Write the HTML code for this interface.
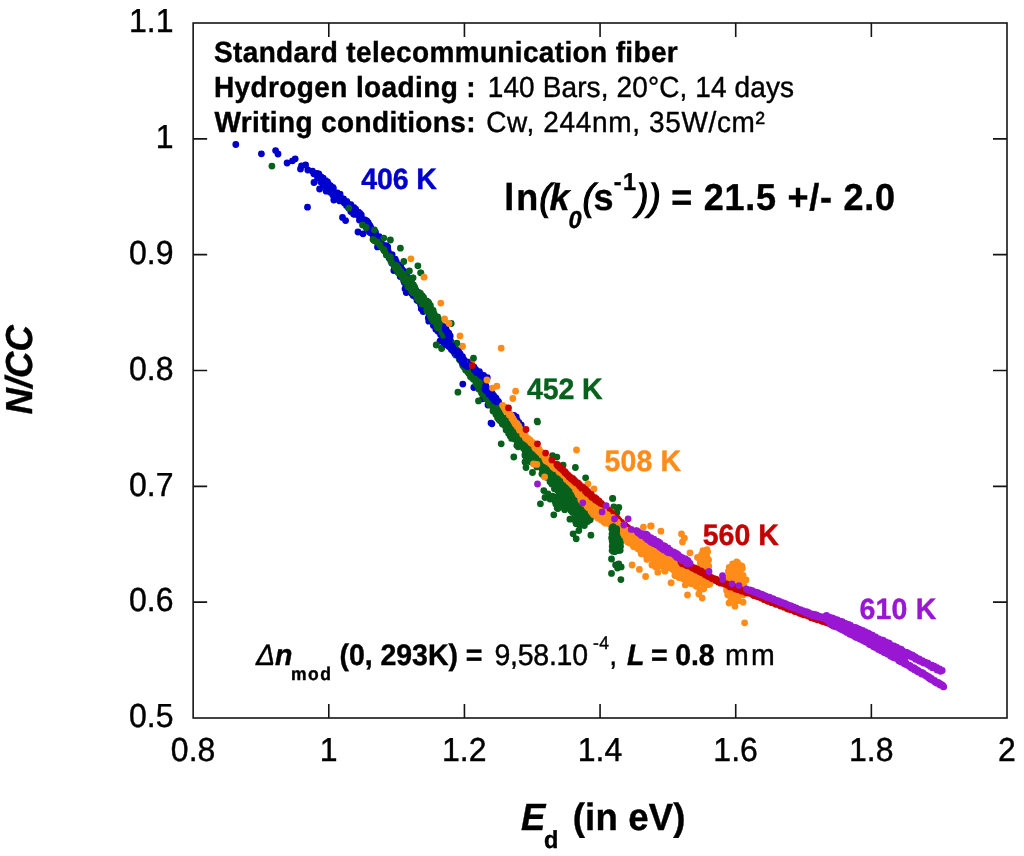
<!DOCTYPE html>
<html lang="en"><head><meta charset="utf-8"><title>NICC versus demarcation energy</title>
<style>
html,body{margin:0;padding:0;background:#fff;}
body{width:1024px;height:856px;overflow:hidden;}
svg{display:block;position:absolute;left:0;top:0;}
text{font-family:"Liberation Sans",sans-serif;fill:#000;stroke:#000;stroke-width:0.4px;white-space:pre;text-rendering:geometricPrecision;}
.b{font-weight:bold}.i{font-style:italic}.bi{font-weight:bold;font-style:italic}
.tk{font-size:32px}
.dots{fill:none;stroke-linecap:round;stroke-linejoin:round}
</style></head><body>
<svg width="1024" height="856" viewBox="0 0 1024 856">
<rect x="0" y="0" width="1024" height="856" fill="#fff"/>
<g id="data">
<path class="dots" stroke="#ff8c19" stroke-width="6.8" d="M462.5 346.2h0M471.9 361.2h0M480.0 373.5h0M462.5 346.5h0M480.6 373.8h0"/>
<path class="dots" stroke="#07601b" stroke-width="6.8" d="M338.8 199.8h0"/>
<path class="dots" stroke="#0000cd" stroke-width="6.8" d="M235.8 144.5h0M261.4 153.8h0M275.6 150.6h0M278.0 154.0h0M287.1 163.0h0M292.5 160.8h0M295.2 158.8h0M301.5 165.8h0M300.5 169.0h0M305.6 165.0h0M307.8 170.0h0M312.5 171.2h0M313.8 173.8h0M318.8 174.0h0M317.5 177.5h0M314.0 182.5h0M322.5 180.0h0M327.5 181.9h0M319.6 189.0h0M325.0 185.0h0M326.2 191.2h0M331.2 187.5h0M333.8 200.0h0M307.5 207.2h0M342.5 217.5h0M345.6 220.6h0M358.0 232.0h0M363.0 233.8h0M377.5 246.9h0M393.8 270.6h0M405.0 288.8h0M406.2 292.0h0M405.0 288.8h0M406.2 292.5h0M428.8 321.2h0M440.0 341.2h0M462.8 384.1h0M482.5 398.8h0M491.0 423.1h0M473.8 387.5h0M488.0 405.0h0M491.9 423.8h0"/>
<path class="dots" stroke="#0000cd" stroke-width="6.8" d="M316.9 173.5h0M317.3 174.6h0M317.7 174.6h0M318.5 175.1h0M318.2 175.9h0M319.5 176.0h0M319.6 176.9h0M321.1 176.8h0M320.7 178.2h0M321.8 177.7h0M322.3 178.4h0M323.2 178.1h0M320.6 181.7h0M322.1 181.8h0M321.5 182.5h0M322.9 182.9h0M325.6 180.6h0M323.2 184.2h0M324.4 184.2h0M325.5 183.7h0M325.0 185.7h0M328.0 183.8h0M328.7 184.3h0M327.6 186.1h0M327.6 186.5h0M326.7 188.6h0M330.4 185.6h0M328.4 189.4h0M331.1 187.0h0M332.0 187.4h0M332.9 187.3h0M333.4 188.1h0M330.3 192.2h0M331.4 192.0h0M332.0 191.9h0M333.6 191.8h0M333.1 192.5h0M333.7 193.1h0M332.8 195.1h0M334.0 194.8h0M335.6 194.6h0M337.4 193.0h0M338.1 194.2h0M338.0 194.5h0M337.7 196.2h0M340.1 194.1h0M340.1 195.7h0M338.2 198.9h0M339.6 197.8h0M339.1 199.7h0M341.4 198.8h0M339.7 200.9h0M342.3 198.9h0M343.6 198.9h0M342.9 201.0h0M343.6 200.8h0M344.7 201.1h0M344.4 201.9h0M344.3 203.1h0M346.8 201.4h0M346.8 203.1h0M346.2 204.2h0M346.4 205.4h0M348.6 204.2h0M348.5 204.9h0M348.2 206.3h0M350.9 204.7h0M348.6 207.8h0M348.8 208.3h0M351.0 207.6h0M352.0 207.4h0M351.8 209.0h0M353.8 207.4h0M350.8 211.6h0M352.7 211.0h0M355.7 209.2h0M355.4 210.2h0M355.8 210.5h0M353.5 213.9h0M354.4 214.4h0M356.7 212.4h0M358.6 212.2h0M358.6 212.5h0M358.8 213.9h0M360.0 213.4h0M358.4 215.7h0M359.9 215.8h0M361.3 214.9h0M361.3 215.7h0M360.3 217.9h0M359.4 220.0h0M360.3 220.0h0M361.9 219.2h0M362.1 220.3h0M363.0 220.3h0M365.1 219.9h0M363.7 221.7h0M365.9 221.1h0M366.8 221.0h0M363.9 224.3h0M364.4 224.5h0M368.2 222.7h0M368.4 223.3h0M365.8 226.1h0M367.1 225.8h0M369.3 224.9h0M370.1 225.9h0M366.9 228.6h0M370.2 227.0h0M369.5 228.3h0M371.0 228.0h0M369.4 230.2h0M370.5 230.3h0M369.4 232.1h0M370.4 232.8h0M372.2 232.2h0M372.3 233.0h0M372.1 233.4h0M375.5 232.2h0M372.8 234.7h0M374.3 234.9h0M375.6 234.2h0M373.4 237.0h0M376.1 235.6h0M375.7 237.4h0M376.1 237.8h0M375.6 239.4h0M379.2 236.6h0M376.5 240.5h0M378.8 239.1h0M379.3 239.8h0M380.2 239.5h0M379.4 241.2h0M379.1 242.2h0M381.3 242.0h0M380.6 243.2h0M381.1 243.9h0M381.1 244.6h0M380.4 245.6h0M382.2 245.8h0M382.7 245.7h0M384.0 245.4h0M383.8 246.6h0M386.4 245.7h0M386.3 247.1h0M387.7 246.8h0M384.4 249.9h0M387.1 249.2h0M385.9 250.3h0M387.9 249.9h0M387.8 250.8h0M388.3 251.7h0M387.0 253.4h0M388.3 253.6h0M389.1 254.0h0M388.5 254.9h0M388.8 255.9h0M392.1 254.6h0M389.3 256.8h0M389.1 258.0h0M392.2 256.5h0M392.2 257.5h0M392.5 257.9h0M391.1 260.1h0M392.0 260.0h0M395.2 259.1h0M395.3 259.3h0M391.7 263.1h0M395.4 261.2h0M395.8 262.0h0M396.4 261.9h0M395.8 263.6h0M396.4 263.8h0M394.6 265.7h0M395.5 266.1h0M394.7 267.6h0M399.7 265.4h0M400.6 265.3h0M399.9 266.9h0M400.4 267.6h0M399.0 268.9h0M398.9 270.1h0M400.9 269.6h0M401.8 269.2h0M399.1 271.8h0M399.4 272.9h0M403.6 271.1h0M400.5 273.4h0M402.8 272.6h0M401.5 274.8h0M400.2 276.6h0M404.5 274.8h0M406.4 273.9h0M404.2 276.0h0M406.0 276.1h0M403.5 278.2h0M405.2 278.4h0M407.2 277.5h0M403.7 280.7h0M409.2 278.5h0M404.4 282.5h0M408.8 280.4h0M405.9 283.3h0M410.5 280.4h0M407.8 283.3h0M405.8 285.1h0M409.0 284.4h0M411.8 283.3h0M408.5 286.5h0M408.3 286.9h0M408.0 288.1h0M412.6 286.0h0M412.3 286.9h0M413.6 286.8h0M411.9 289.1h0M414.7 288.2h0M414.8 288.5h0M415.6 289.6h0M413.5 291.6h0M411.7 293.6h0M413.3 293.1h0M415.7 292.6h0M417.0 292.5h0M413.1 295.6h0M418.0 293.8h0M418.4 294.5h0M416.4 296.5h0M417.8 296.5h0M416.5 298.3h0M420.1 296.5h0M420.3 297.0h0M417.0 300.2h0M418.4 300.3h0M420.7 299.4h0M419.0 301.6h0M419.9 301.7h0M420.2 302.5h0M421.6 302.0h0M422.4 302.4h0M420.7 304.8h0M422.4 304.3h0M424.6 303.6h0M422.3 305.9h0M423.1 306.1h0M421.5 308.5h0M421.3 308.7h0M422.7 309.2h0M426.4 307.7h0M424.1 309.4h0M427.7 308.6h0M423.2 311.6h0M427.6 310.3h0M427.8 311.0h0M429.7 310.6h0M428.8 311.8h0M430.2 311.6h0M430.3 312.5h0M430.7 312.9h0M430.6 313.7h0M429.4 315.4h0M429.1 316.8h0M428.3 318.0h0M432.3 316.0h0M431.7 317.5h0M432.1 318.4h0M432.3 318.3h0M432.4 319.9h0M433.3 320.0h0M435.1 319.4h0M435.2 319.9h0M434.6 321.3h0M433.4 323.1h0M435.6 322.2h0M436.6 322.2h0M433.4 325.6h0M436.1 324.4h0M435.5 325.5h0M437.3 325.5h0M438.0 325.8h0M438.8 326.1h0M435.8 329.3h0M439.0 328.2h0M437.1 329.6h0M438.8 329.7h0M438.0 331.2h0M440.1 330.5h0M442.1 329.5h0M442.0 330.5h0M441.0 332.9h0M442.1 332.1h0M440.5 334.6h0M442.1 334.2h0M443.5 333.9h0M441.8 335.9h0M442.7 336.6h0M445.9 335.0h0M445.2 336.2h0M445.8 337.2h0M444.4 339.3h0M445.8 338.8h0M447.1 338.8h0M445.1 340.7h0M445.2 341.8h0M447.4 341.3h0M447.2 342.0h0M449.0 341.4h0M447.5 343.5h0M451.2 342.1h0M450.2 343.0h0M450.5 344.2h0M448.9 346.5h0M450.5 346.0h0M451.0 346.0h0M453.2 345.5h0M451.5 347.3h0M452.5 348.3h0M451.7 349.1h0M454.2 348.0h0M453.1 350.3h0M453.2 351.1h0M455.8 349.1h0M456.5 350.0h0M455.1 352.3h0M454.7 353.4h0M455.0 354.0h0M458.6 351.8h0M455.9 354.9h0M458.8 353.6h0M459.7 353.3h0M458.0 355.6h0M459.5 355.4h0M460.6 356.0h0M460.8 356.4h0M460.9 357.0h0M462.5 356.7h0M461.4 358.6h0M460.0 360.1h0M463.4 359.1h0M461.7 360.8h0M463.0 360.8h0M462.9 362.0h0M464.1 361.5h0M463.3 363.5h0M464.1 363.8h0M467.2 362.0h0M465.1 364.4h0M467.7 363.0h0M465.8 365.7h0M466.6 366.4h0M469.2 364.7h0M466.8 367.7h0M468.3 367.3h0M469.4 366.9h0M468.3 369.1h0M468.6 369.5h0M470.1 369.5h0M469.9 370.2h0M471.2 369.9h0M470.5 372.1h0M473.3 370.9h0M472.8 372.1h0M471.5 373.5h0M472.1 374.6h0M474.7 372.8h0M473.8 375.0h0M474.2 375.6h0M474.7 376.2h0M474.5 377.1h0M474.8 377.4h0M475.1 378.1h0M476.6 377.8h0M477.8 377.3h0M479.4 377.1h0M479.1 378.4h0M479.4 378.8h0M480.4 379.6h0M478.3 382.1h0M479.4 381.5h0M481.5 380.8h0M479.8 383.3h0M483.0 382.1h0M483.4 382.6h0M480.9 385.2h0M484.3 383.8h0M483.7 384.9h0M482.9 386.6h0M483.1 387.3h0M485.9 386.1h0M485.9 386.3h0M485.1 388.3h0M485.6 389.1h0M486.4 389.2h0M487.4 389.3h0M486.6 390.9h0M487.5 391.3h0M489.7 390.2h0M488.9 391.4h0M490.1 391.4h0M488.8 393.4h0M488.9 394.1h0M490.6 393.4h0M490.4 395.0h0M492.3 393.8h0M491.5 395.4h0M492.4 395.6h0M493.7 395.7h0M493.3 396.9h0M494.0 397.4h0M494.3 397.7h0M495.8 397.9h0M496.1 398.4h0M496.2 399.5h0M496.7 399.7h0M495.4 401.6h0M496.0 402.3h0M498.3 401.4h0M498.6 402.0h0M496.8 404.3h0"/>
<path class="dots" stroke="#0000cd" stroke-width="6.8" d="M516.2 416.9h0M518.8 422.5h0M521.2 425.0h0M514.0 415.5h0M518.8 423.8h0M517.0 420.0h0"/>
<path class="dots" stroke="#07601b" stroke-width="6.8" d="M271.9 166.1h0M348.8 208.1h0M362.5 225.0h0M366.2 227.5h0M374.4 229.8h0M373.0 239.4h0M376.9 241.9h0M383.8 238.1h0M390.4 240.0h0M400.4 248.2h0M383.8 250.0h0M389.4 257.5h0M403.8 261.5h0M394.4 265.0h0M417.9 265.8h0M398.8 270.0h0M409.4 271.0h0M420.9 272.8h0M413.0 277.8h0M420.6 272.8h0M413.1 277.8h0M451.2 323.5h0M436.2 345.0h0M441.6 348.5h0M456.9 343.1h0M473.5 358.1h0M462.1 361.9h0M466.2 370.0h0M470.0 373.8h0M441.9 348.1h0M473.5 358.2h0M457.9 392.2h0M478.5 400.9h0M537.2 421.2h0M501.2 443.8h0M501.2 443.8h0M513.8 457.0h0M525.0 461.9h0M526.0 467.5h0M532.5 472.5h0M543.8 490.6h0M554.4 488.8h0M545.0 497.5h0M552.5 496.2h0M555.0 501.2h0M561.2 502.5h0M540.4 503.8h0M558.0 508.5h0M553.8 514.8h0M570.0 505.6h0M572.5 512.5h0M576.2 523.8h0M548.0 494.0h0M550.0 499.0h0M557.0 497.5h0M559.0 500.0h0M561.9 503.1h0M569.4 505.6h0M572.5 511.9h0M576.2 523.8h0M584.4 525.6h0M578.8 530.6h0M573.1 533.8h0M576.2 538.8h0M590.9 535.2h0M537.5 421.9h0M552.5 455.6h0M556.9 457.1h0M563.1 465.2h0M575.4 467.5h0M585.6 477.8h0M612.5 498.5h0M613.8 507.5h0M612.8 498.4h0M613.8 506.9h0M618.8 507.5h0M616.9 512.5h0M611.5 559.0h0M615.6 565.0h0M618.8 563.8h0M621.2 566.9h0M617.5 568.0h0M611.5 573.4h0M620.9 579.6h0"/>
<path class="dots" stroke="#07601b" stroke-width="6.8" d="M374.4 240.7h0M377.4 242.2h0M379.8 244.7h0M380.3 245.8h0M383.3 249.1h0M384.5 251.0h0M386.3 254.9h0M389.6 256.8h0M390.4 257.0h0M390.7 260.7h0M392.2 263.1h0"/>
<path class="dots" stroke="#07601b" stroke-width="6.8" d="M394.0 265.3h0M394.6 265.8h0M395.1 266.6h0M396.6 265.6h0M395.1 267.8h0M397.0 267.2h0M396.0 268.7h0M398.0 267.7h0M397.9 269.1h0M398.4 269.1h0M397.2 270.6h0M399.4 270.1h0M398.0 271.9h0M398.0 272.4h0M398.7 272.4h0M400.9 272.0h0M401.0 272.3h0M399.8 273.9h0M400.4 274.6h0M402.4 273.8h0M402.5 274.0h0M403.9 274.2h0M403.3 275.3h0M403.5 275.7h0M404.5 275.8h0M402.5 277.9h0M404.7 277.3h0M404.1 278.2h0M404.0 279.5h0M404.7 279.3h0M404.8 280.0h0M407.7 278.5h0M405.0 281.5h0M408.0 279.8h0M408.2 280.2h0M406.6 282.6h0M408.5 281.5h0M408.3 282.3h0M407.6 284.2h0M410.8 282.4h0M407.6 285.6h0M411.3 283.4h0M408.0 286.8h0M410.4 285.6h0M409.0 287.2h0M411.9 285.8h0M413.5 284.9h0M412.8 286.6h0M412.9 286.8h0M411.0 289.5h0M414.7 287.2h0M412.7 289.9h0M411.9 291.2h0M414.6 289.5h0M413.5 291.0h0M412.9 292.8h0M415.5 290.8h0M416.1 291.4h0M414.4 293.3h0M415.6 293.1h0M417.2 292.8h0M418.8 292.5h0M418.8 293.1h0M417.9 294.8h0M420.5 293.4h0M418.1 296.2h0M416.8 297.7h0M418.3 297.7h0M420.1 296.9h0M422.3 296.0h0M418.5 299.9h0M420.3 298.6h0M423.6 297.3h0M420.0 300.8h0M423.7 298.1h0M421.3 301.3h0M422.5 301.3h0M421.7 302.1h0M423.5 301.5h0M421.9 304.0h0M426.7 301.0h0M424.7 303.0h0M427.2 302.3h0M428.2 302.2h0M428.8 302.8h0M428.2 303.6h0M427.1 304.8h0M428.2 304.8h0M427.2 306.2h0M429.4 306.0h0M430.4 305.5h0M426.7 309.1h0M430.6 307.3h0M427.8 309.5h0M427.8 310.2h0M427.1 311.2h0M429.2 310.9h0M430.5 310.7h0M432.2 309.9h0M433.2 310.4h0M432.9 311.4h0M432.0 312.7h0M433.2 312.7h0M431.0 314.4h0M434.1 313.6h0M430.4 316.1h0M431.6 316.6h0M433.9 315.8h0M432.0 317.8h0M431.6 318.7h0M434.1 318.0h0M434.0 318.1h0M437.6 316.9h0M433.4 320.0h0M433.3 321.1h0M437.6 319.2h0M438.6 319.2h0M437.7 320.6h0M439.3 320.4h0M439.2 321.0h0M436.0 323.8h0M437.4 323.3h0M438.6 323.1h0M438.8 323.6h0M437.9 324.9h0M439.7 324.7h0M437.2 326.9h0M437.6 327.7h0M441.8 325.5h0M438.6 328.0h0M442.1 326.7h0M442.2 327.7h0M441.6 328.5h0M442.0 328.7h0M441.8 330.0h0M444.2 329.2h0M442.6 330.4h0M443.2 331.1h0M441.9 332.4h0M443.0 332.8h0M442.8 333.1h0M443.3 333.8h0M444.2 334.0h0M443.5 334.9h0M443.7 335.8h0M446.1 334.6h0M445.0 335.9h0M446.8 336.0h0M446.1 336.8h0M446.4 337.3h0M446.6 337.8h0"/>
<path class="dots" stroke="#07601b" stroke-width="6.8" d="M446.7 338.7h0M447.7 338.6h0M448.2 338.4h0M447.2 339.6h0M447.9 339.7h0M448.7 340.2h0M447.7 340.9h0M450.0 340.4h0M448.1 342.1h0M449.6 341.3h0M450.2 341.5h0M450.1 342.4h0M450.4 342.5h0M449.3 344.1h0M451.1 343.1h0M450.1 344.3h0M452.0 344.0h0M451.7 344.3h0M450.8 345.8h0M452.2 345.5h0M453.1 344.9h0M452.7 346.1h0M453.1 346.1h0M451.7 347.5h0M453.1 347.3h0M453.2 347.6h0M452.4 348.7h0M453.4 349.0h0M453.5 349.2h0M454.6 348.8h0M453.9 350.2h0M455.0 349.7h0M456.2 349.4h0M456.2 350.4h0M456.4 350.7h0M455.7 351.6h0M456.5 351.4h0M457.4 351.3h0M455.6 353.1h0M456.9 352.8h0M456.9 353.4h0M458.3 352.9h0M456.2 354.9h0M457.9 354.5h0M457.4 355.2h0M457.8 355.3h0M459.6 355.0h0M459.1 355.8h0M459.0 356.1h0M460.1 356.0h0M459.4 357.3h0M459.1 357.8h0M460.4 357.9h0M459.2 359.0h0M460.5 358.5h0M461.0 358.8h0M460.2 359.9h0M461.5 359.8h0M460.7 360.6h0M462.3 360.3h0M462.5 360.5h0M462.9 360.9h0M462.9 361.2h0M463.0 361.6h0M463.3 362.1h0M462.5 363.5h0M462.2 363.8h0M464.9 362.8h0M465.0 363.3h0M462.7 365.1h0M462.9 365.7h0M465.0 364.9h0M465.4 365.0h0M464.8 366.2h0M465.4 366.4h0M464.3 367.6h0M465.1 367.3h0M466.3 367.0h0M465.7 368.0h0M467.7 367.3h0M466.1 369.1h0M465.6 370.0h0M466.1 370.2h0M467.5 369.6h0M468.0 369.9h0M468.0 370.5h0M469.7 369.7h0M467.5 371.8h0M469.8 371.0h0M469.8 371.1h0M469.6 372.3h0M469.7 372.8h0M468.8 373.5h0M469.3 373.7h0M469.7 374.5h0M471.0 374.0h0M471.7 373.5h0M470.3 375.7h0M472.5 374.3h0M470.6 376.3h0M470.5 376.8h0M471.4 376.6h0M471.1 377.3h0M472.6 376.9h0M472.4 377.5h0M474.2 377.2h0M475.0 377.0h0M473.2 378.6h0M473.3 379.2h0M475.7 377.7h0M474.6 379.3h0M476.4 378.5h0M475.7 379.5h0M475.3 380.3h0M475.6 380.6h0M477.9 379.6h0M475.9 381.5h0M478.0 380.9h0M478.6 380.9h0M475.9 383.5h0M477.5 382.7h0M478.8 382.7h0M479.8 382.4h0M477.0 384.7h0M479.5 383.8h0M479.4 384.1h0M479.7 384.4h0M479.0 385.8h0M479.3 386.1h0M479.6 386.4h0M480.0 386.4h0M481.5 385.9h0M478.7 388.5h0M478.9 389.3h0M482.1 387.2h0M482.3 387.6h0M480.1 390.0h0M481.9 389.2h0M481.1 390.2h0M481.6 390.6h0M482.3 390.6h0M482.6 391.0h0M481.8 391.9h0M481.9 392.3h0M481.5 393.1h0M485.5 391.0h0M485.3 391.6h0M486.2 391.2h0M482.7 394.5h0M484.8 393.4h0M486.9 392.6h0M486.6 393.5h0M484.1 395.5h0M488.4 393.3h0M487.3 394.6h0M487.6 395.0h0M489.2 394.5h0M486.5 397.0h0M485.7 397.7h0M488.6 396.5h0M487.1 397.8h0M486.2 399.0h0M486.6 399.2h0M490.2 397.7h0M488.2 399.2h0M489.1 399.2h0M489.9 399.3h0M490.7 399.2h0M488.4 401.6h0M489.0 401.3h0M489.9 401.7h0M490.3 402.1h0M491.4 401.6h0M490.3 402.9h0M493.4 401.6h0M489.4 404.4h0M493.0 402.8h0M494.5 402.2h0M494.8 402.4h0M494.7 403.4h0M493.8 404.3h0M495.6 403.8h0M495.1 404.3h0M494.5 405.5h0M495.0 405.5h0M492.8 407.6h0M497.2 405.5h0M496.9 406.2h0M495.3 407.6h0M497.3 406.6h0M494.4 409.5h0M493.0 411.0h0M497.1 408.8h0M495.2 410.5h0M494.8 411.1h0M496.2 411.1h0M498.2 410.2h0M498.2 410.7h0M497.0 411.9h0M497.9 411.9h0M496.5 413.6h0M495.9 414.4h0M499.1 412.7h0M499.9 412.9h0M496.7 415.2h0M500.3 413.6h0M498.5 415.5h0M499.5 415.1h0M499.8 415.7h0M500.5 415.4h0M497.6 418.0h0M501.3 416.1h0M499.4 418.1h0M500.0 417.9h0M501.1 418.1h0M499.0 419.8h0M502.0 418.2h0M501.9 418.9h0M500.1 420.7h0M502.9 419.2h0M505.5 418.1h0M502.4 421.0h0M503.3 420.7h0M506.6 419.0h0M507.0 419.2h0M502.0 423.1h0M506.0 421.3h0M502.3 424.0h0M506.6 421.5h0M505.0 423.7h0M503.8 424.8h0M505.5 424.4h0M509.1 422.5h0M505.2 425.6h0M506.9 425.0h0M508.3 424.3h0M506.8 426.2h0M507.5 426.4h0M505.8 427.8h0M510.5 424.9h0M508.5 427.3h0M510.5 425.8h0M506.1 430.0h0M512.4 425.8h0M510.7 427.7h0M508.2 430.2h0M511.4 428.1h0M508.5 431.3h0M509.1 431.4h0M509.3 431.9h0M512.7 429.6h0M508.6 433.5h0M510.3 432.6h0M512.2 431.4h0M510.8 433.4h0M514.5 430.9h0M513.2 432.9h0M510.7 434.9h0M510.2 436.0h0M511.8 435.2h0M512.6 435.5h0M514.2 434.4h0M516.1 433.7h0M514.0 435.8h0M511.6 438.4h0M516.2 435.2h0M518.5 434.2h0M519.0 434.1h0M514.3 438.9h0M518.2 435.9h0M520.3 435.1h0M519.4 436.0h0M519.5 437.0h0M520.4 436.8h0M516.7 440.2h0M520.9 437.5h0M520.5 438.3h0M520.1 439.0h0M521.7 438.6h0M517.3 442.7h0M517.5 442.9h0M519.2 442.5h0M520.8 441.8h0M516.8 445.6h0M521.3 442.3h0M519.8 444.4h0M522.3 442.6h0M518.1 446.8h0M522.4 443.8h0M526.0 441.3h0M521.0 446.3h0M521.4 446.4h0M523.9 445.1h0M525.6 444.1h0M522.6 447.1h0M526.6 444.4h0M528.0 443.6h0M524.1 447.6h0M523.6 448.6h0M525.5 447.6h0M525.2 448.3h0M528.1 446.6h0M525.0 449.8h0M528.7 447.4h0M525.1 451.0h0M530.1 447.3h0M528.7 449.3h0M527.7 450.6h0M529.4 449.7h0M526.5 452.6h0M524.9 454.8h0M525.9 454.5h0M525.0 455.8h0M530.9 451.2h0M530.4 452.6h0M526.7 456.1h0M533.8 450.6h0M529.4 454.8h0M533.1 452.8h0M531.7 454.3h0M528.9 457.7h0M531.2 456.3h0M528.9 459.0h0M533.9 454.6h0M531.4 457.7h0M531.0 458.6h0M536.7 453.6h0M530.7 460.5h0M530.3 461.7h0M530.4 461.6h0M531.6 461.6h0M533.4 459.9h0M532.0 462.1h0M539.0 455.7h0M534.4 461.2h0M536.9 459.2h0M534.6 461.9h0M536.0 461.1h0M537.4 460.4h0M539.5 459.2h0M539.8 459.7h0M539.1 461.1h0M538.9 461.8h0M542.0 459.1h0M542.8 459.2h0M540.1 462.4h0M541.7 461.4h0M536.9 466.9h0M542.0 462.6h0M539.6 465.5h0M540.0 465.8h0M544.1 462.0h0M543.7 463.5h0M545.7 462.0h0M544.0 464.3h0M546.5 462.2h0M542.7 466.7h0M547.2 463.1h0M544.9 465.9h0M542.2 469.3h0M546.2 465.7h0M543.2 469.7h0M544.4 468.8h0M548.0 465.9h0M545.2 469.4h0M542.6 472.8h0M541.9 473.9h0M545.0 471.3h0M547.1 470.1h0M544.8 472.8h0M551.5 467.3h0M549.2 470.0h0M543.7 475.4h0M550.6 470.0h0M550.0 471.2h0M548.5 473.0h0M546.5 475.1h0M547.0 475.6h0M552.6 471.3h0M546.5 477.3h0M548.2 476.5h0M552.3 473.1h0M555.1 471.6h0M552.0 474.6h0M555.9 472.2h0M550.3 477.3h0M553.6 474.9h0M552.6 476.7h0M555.0 475.3h0M556.1 474.9h0M550.4 480.3h0M555.3 476.3h0M550.0 481.7h0M554.7 478.1h0M558.3 476.1h0M558.8 476.2h0M555.3 479.5h0M557.2 478.6h0M551.9 483.7h0M551.8 484.1h0M559.0 478.4h0M555.8 481.9h0M556.8 481.7h0M558.7 480.5h0M560.7 479.3h0M556.9 483.5h0M562.4 479.3h0M562.0 480.3h0M559.3 483.3h0M562.7 481.0h0M563.3 480.6h0M558.2 486.1h0M562.7 482.3h0M561.3 484.5h0M560.3 485.6h0M557.2 489.1h0M557.9 488.9h0M565.4 483.3h0M559.1 489.4h0M558.0 491.0h0M560.4 489.3h0M562.8 487.8h0M561.9 488.9h0M564.3 487.6h0M559.3 492.9h0M564.6 488.6h0M561.3 492.1h0M560.6 493.2h0M562.3 492.5h0M568.9 487.2h0M561.2 494.7h0M561.8 494.8h0M565.8 491.5h0M561.3 496.4h0M568.9 489.9h0M568.8 490.7h0M567.6 492.6h0M565.3 495.4h0M563.1 497.8h0M572.5 490.1h0M566.3 496.0h0M564.0 498.8h0M568.4 495.2h0M572.1 492.9h0M569.7 495.2h0M574.0 491.9h0M568.2 497.9h0M566.3 500.3h0M572.5 495.2h0M575.3 493.7h0M574.6 494.7h0M575.2 494.8h0M573.7 496.8h0M570.5 500.4h0M575.2 496.7h0M570.7 501.2h0M572.0 500.5h0M569.4 503.5h0M570.0 503.8h0M577.6 497.3h0M569.0 505.7h0M577.7 498.2h0M578.5 498.1h0M577.7 499.6h0M571.1 506.4h0M575.0 503.4h0M573.9 504.8h0M575.2 504.2h0M575.5 504.3h0M579.3 501.8h0M577.3 504.0h0M572.2 509.6h0M579.1 503.9h0M573.3 509.4h0M576.9 506.8h0M580.5 504.5h0M581.2 504.6h0M576.9 509.0h0M578.4 508.0h0M576.0 511.0h0M581.4 506.2h0M580.7 507.5h0M581.5 507.8h0M584.0 506.1h0M582.5 507.8h0M579.1 511.5h0M583.5 508.4h0M583.4 509.1h0M580.2 512.5h0M579.8 513.3h0M585.5 509.0h0M584.7 510.4h0M578.4 516.1h0M582.2 513.9h0M589.2 509.2h0M582.1 514.5h0M579.6 516.6h0M581.4 515.9h0M585.7 513.6h0M587.0 513.5h0M581.6 517.4h0M581.8 517.7h0M588.1 514.5h0M587.6 514.9h0M585.5 517.0h0M584.8 517.8h0M587.7 516.6h0M585.1 518.7h0M589.6 516.5h0M588.9 517.8h0M591.2 516.9h0M586.8 520.0h0M588.5 519.6h0M588.0 520.1h0M590.2 519.7h0M587.7 521.5h0"/>
<path class="dots" stroke="#07601b" stroke-width="6.8" d="M576.3 519.6h0M578.1 513.9h0M579.1 512.3h0M586.1 515.3h0M575.6 521.8h0M585.8 514.0h0M575.3 506.9h0M575.7 506.2h0M584.8 511.0h0M578.8 511.9h0M581.6 503.8h0M583.7 511.3h0M576.8 510.8h0M569.9 519.2h0M581.4 515.4h0M577.4 514.9h0M582.1 501.8h0M580.1 524.4h0M581.2 514.3h0M584.5 519.5h0M582.3 501.8h0M583.9 517.5h0M584.3 503.6h0M581.3 508.3h0M582.1 508.2h0M587.2 513.4h0M576.3 504.7h0M577.5 512.4h0M575.3 509.0h0M585.3 512.0h0M574.3 519.0h0M596.0 509.0h0M576.3 509.5h0M587.2 502.9h0M585.1 510.8h0M588.4 511.9h0M578.5 508.3h0M583.7 510.3h0M576.4 498.2h0M582.2 507.7h0M591.5 510.4h0M590.9 511.7h0M584.7 510.6h0M582.0 516.7h0M577.6 512.6h0M589.6 505.0h0M578.7 516.2h0M583.5 515.3h0M580.3 517.6h0M580.4 509.8h0M571.7 507.7h0M581.4 521.2h0M580.0 525.7h0M575.7 512.0h0M586.8 508.4h0M578.4 514.8h0M584.7 515.6h0M591.9 514.0h0M589.4 504.5h0M575.9 512.7h0M580.3 515.4h0M579.9 517.4h0M577.4 511.9h0M574.6 510.8h0M585.6 518.6h0M588.7 505.9h0M577.0 510.7h0M580.1 507.3h0M583.6 507.7h0M584.3 522.6h0"/>
<path class="dots" stroke="#07601b" stroke-width="6.8" d="M572.8 503.1h0M570.7 496.3h0M565.0 505.5h0M580.4 490.8h0M568.4 498.6h0M568.5 497.8h0M575.1 499.3h0M575.3 493.8h0M570.7 506.8h0M569.5 493.3h0M569.8 499.8h0M562.1 501.1h0M574.9 498.1h0M571.4 499.2h0M571.0 494.8h0M569.6 502.0h0M574.6 501.5h0M568.2 501.8h0M575.5 505.1h0M574.5 500.2h0M571.5 502.4h0M575.8 490.9h0M568.4 500.7h0M575.7 494.4h0M566.7 492.7h0M576.8 502.4h0M570.8 510.4h0M579.6 503.3h0M573.2 499.3h0M575.6 496.9h0"/>
<path class="dots" stroke="#07601b" stroke-width="6.8" d="M566.5 501.4h0M566.3 503.5h0M564.5 509.3h0M565.8 503.5h0M560.5 501.1h0M557.2 508.0h0M562.7 499.4h0M568.6 501.5h0M568.7 505.2h0M565.6 504.6h0M557.0 503.1h0M560.0 500.2h0M564.3 499.3h0M556.2 501.0h0M555.8 503.9h0M564.8 504.1h0M560.6 506.7h0M564.7 509.7h0M559.2 504.8h0M560.2 501.9h0M561.0 506.5h0M559.4 499.7h0M569.8 504.5h0M563.7 506.8h0M567.4 507.2h0"/>
<path class="dots" stroke="#0000cd" stroke-width="6.8" d="M445.2 327.0h0M445.9 329.0h0M445.2 329.5h0M446.7 331.0h0M447.3 332.5h0M448.8 333.1h0M448.5 335.4h0M450.2 336.0h0M450.0 337.3h0M449.7 339.1h0"/>
<path class="dots" stroke="#0000cd" stroke-width="6.8" d="M443.5 342.0h0M446.1 341.4h0M446.1 343.6h0M445.9 344.6h0M447.3 344.3h0M448.6 346.1h0M450.0 346.2h0M451.9 345.7h0M452.5 346.8h0M451.4 349.6h0M452.5 349.9h0M453.6 350.8h0M454.7 350.1h0M455.7 352.1h0M458.2 351.6h0M457.5 353.3h0M457.2 354.8h0M460.4 354.4h0M459.3 356.8h0M460.8 357.5h0M460.3 358.9h0M461.6 360.0h0M463.9 360.2h0M462.6 362.3h0M463.2 363.4h0M464.0 363.8h0M465.0 365.1h0M466.0 365.5h0M467.4 366.6h0"/>
<path class="dots" stroke="#0000cd" stroke-width="6.8" d="M474.0 367.1h0M474.2 370.0h0M475.6 369.5h0M476.5 371.3h0M476.5 372.6h0M479.4 371.7h0M479.7 373.1h0M480.0 374.4h0M481.3 375.6h0M483.6 375.4h0M483.3 376.7h0M484.8 377.8h0M485.0 378.2h0M487.3 377.6h0"/>
<path class="dots" stroke="#0000cd" stroke-width="6.8" d="M485.6 386.2h0M486.2 387.3h0M484.8 388.9h0M485.8 390.4h0M486.7 390.2h0M488.7 390.7h0M488.3 392.6h0M488.8 393.9h0M490.7 394.6h0M492.0 393.9h0M491.4 396.5h0M492.8 397.7h0M492.4 398.0h0M495.2 398.2h0M494.4 400.5h0M495.6 400.5h0M496.5 401.8h0"/>
<path class="dots" stroke="#ff8c19" stroke-width="6.8" d="M410.9 258.8h0M424.1 277.2h0M424.0 277.2h0M440.8 303.1h0M444.6 319.0h0M449.0 323.5h0M460.0 335.9h0M501.2 348.2h0M486.9 380.0h0M492.5 388.1h0M496.9 386.2h0M515.6 391.2h0M512.8 398.5h0M576.5 450.0h0M536.9 464.4h0M533.5 464.0h0M544.6 476.9h0M587.9 484.0h0M594.0 489.0h0M579.8 495.0h0M587.8 483.8h0M594.0 489.0h0M579.6 495.0h0M611.2 511.9h0M643.4 527.1h0M650.6 526.0h0M660.9 531.2h0M681.5 534.0h0M684.4 538.1h0M682.5 541.9h0M641.2 553.8h0M632.1 565.0h0M639.4 569.4h0M645.6 576.5h0M651.9 565.0h0M657.9 572.2h0M665.0 571.2h0M671.2 582.8h0M678.8 577.5h0M683.1 578.8h0M703.0 550.6h0M700.6 556.2h0M703.8 558.8h0M707.5 563.8h0M697.5 557.5h0M708.8 566.2h0M702.0 554.0h0M705.0 561.0h0M690.0 552.8h0M651.2 526.0h0M657.8 572.2h0M671.0 582.8h0M678.8 576.9h0M691.9 581.6h0M696.9 586.2h0M702.5 582.5h0M708.8 582.5h0M703.8 588.8h0M687.5 595.0h0M698.8 594.0h0M702.2 598.1h0M700.0 590.0h0M694.0 584.0h0M736.2 566.2h0M741.9 566.2h0M739.0 569.0h0M730.0 571.2h0M737.5 572.5h0M733.0 574.0h0M731.2 576.2h0M742.5 578.8h0M737.0 577.0h0M740.0 582.0h0M734.0 581.0h0M727.5 587.5h0M730.0 591.2h0M733.8 595.0h0M737.5 597.5h0M743.1 595.0h0M735.0 590.0h0M739.0 592.0h0M729.0 603.1h0M735.0 606.2h0M743.1 602.2h0M736.0 601.0h0M744.6 622.8h0M729.0 584.0h0M744.0 586.0h0M746.0 580.0h0M732.0 598.0h0"/>
<path class="dots" stroke="#ff8c19" stroke-width="6.8" d="M502.6 405.3h0M503.5 406.4h0M503.6 406.6h0M505.1 407.2h0M505.1 408.4h0M505.7 408.4h0M505.3 409.7h0M506.8 410.5h0M507.7 411.1h0M506.8 411.8h0M508.8 412.3h0M509.2 412.6h0M509.2 414.0h0M509.3 415.1h0M510.7 415.5h0M511.3 415.7h0M511.5 416.8h0M512.2 417.5h0M511.9 418.4h0M513.0 418.6h0M513.0 420.1h0M513.7 420.2h0M514.4 421.2h0M514.2 422.0h0M515.8 422.7h0M515.2 424.1h0M517.3 423.9h0M517.2 424.6h0M517.1 426.4h0M518.8 426.2h0M519.1 427.1h0M518.7 427.8h0M519.8 428.6h0M519.5 430.2h0M521.2 430.1h0M521.1 430.8h0M522.1 431.0h0M522.9 432.0h0M523.2 432.0h0M522.7 434.5h0M524.2 433.8h0M524.3 434.8h0M525.4 435.4h0M525.2 436.9h0M525.5 438.0h0M526.0 438.6h0M527.6 438.4h0M528.0 438.3h0M528.4 440.2h0M530.0 439.8h0M530.2 440.7h0M530.3 441.3h0M530.8 442.8h0M532.7 442.3h0M531.9 443.6h0M533.0 443.8h0M533.7 445.0h0M534.0 444.9h0M535.0 445.5h0M534.5 446.9h0M535.2 448.2h0M536.7 447.9h0M537.2 448.9h0M537.3 450.0h0M539.0 449.2h0M538.3 450.9h0M539.8 450.7h0M539.6 451.8h0M539.8 452.5h0M541.8 452.4h0M541.9 453.5h0M542.0 455.0h0M542.6 455.5h0M543.0 455.8h0M545.0 456.1h0M544.7 457.9h0M545.7 457.7h0M545.0 459.5h0M547.2 459.1h0M546.0 461.0h0M547.0 460.9h0M548.1 462.0h0M549.7 461.2h0M549.8 462.0h0M549.8 463.4h0M551.6 462.8h0M551.4 464.0h0M552.1 465.1h0M552.3 466.0h0M553.2 467.2h0M554.8 466.8h0M554.3 468.0h0M554.8 468.5h0M556.8 468.4h0M556.6 468.9h0M558.0 469.0h0M558.4 470.1h0M558.8 471.4h0M559.4 472.2h0M560.5 471.9h0M560.9 472.8h0M561.6 473.5h0M562.8 474.1h0M563.5 474.2h0M563.6 475.5h0M564.5 476.0h0M565.0 476.1h0M565.9 476.6h0M566.2 478.4h0M566.5 479.4h0M567.6 478.7h0M568.2 479.6h0M569.3 479.7h0M568.9 481.8h0M570.1 481.5h0M570.4 482.4h0M570.6 483.2h0M571.7 483.2h0M572.0 484.7h0M572.9 484.4h0M574.1 485.0h0M573.8 486.6h0M574.8 486.6h0M575.6 486.9h0M575.6 488.5h0M575.6 489.9h0M576.7 490.1h0M577.3 490.1h0M577.3 492.1h0M577.4 492.9h0M580.0 492.2h0M578.3 494.8h0M579.9 494.2h0M579.9 495.7h0"/>
<path class="dots" stroke="#ff8c19" stroke-width="6.8" d="M705.8 555.0h0M705.3 554.5h0M700.8 559.8h0M703.0 557.4h0M704.1 566.7h0M708.6 560.0h0M706.0 555.8h0M707.6 551.7h0M700.3 563.2h0M704.2 562.4h0M704.5 561.4h0M707.0 557.1h0M703.0 559.8h0M707.0 549.7h0M704.3 557.9h0M704.1 554.3h0M704.5 562.9h0M701.5 567.7h0M704.9 561.5h0M705.5 564.2h0M700.6 558.2h0M706.2 554.4h0"/>
<path class="dots" stroke="#ff8c19" stroke-width="6.8" d="M728.6 571.4h0M729.2 567.5h0M732.6 566.9h0M734.6 571.6h0M729.4 567.9h0M736.7 562.0h0M736.2 579.9h0M736.8 572.6h0M739.1 572.6h0M737.6 578.9h0M728.4 571.5h0M735.0 573.7h0M735.9 574.5h0M737.6 562.6h0M731.6 570.6h0M730.8 569.6h0M740.2 565.5h0M732.0 573.6h0M734.2 572.5h0M743.1 575.3h0M734.2 572.9h0M737.4 572.2h0M731.8 574.2h0M742.3 568.6h0M732.1 575.0h0M738.9 572.3h0M731.5 574.0h0M732.6 563.9h0M733.9 575.1h0M738.6 574.5h0M739.2 578.9h0M731.4 567.1h0M740.7 573.8h0M734.9 569.7h0M735.4 571.8h0M733.2 567.7h0M735.8 571.1h0M732.9 570.9h0M737.9 583.8h0M730.3 571.1h0"/>
<path class="dots" stroke="#ff8c19" stroke-width="6.8" d="M726.6 590.5h0M737.4 595.9h0M734.3 586.5h0M737.9 595.5h0M727.1 587.2h0M733.2 586.6h0M731.4 600.0h0M736.8 594.4h0M732.7 597.3h0M734.5 586.6h0M727.7 594.8h0M730.6 580.0h0M737.9 584.1h0M734.5 595.2h0M726.5 587.7h0M733.7 600.4h0M734.9 594.4h0M738.8 592.0h0M736.5 584.2h0M733.8 588.2h0M733.1 596.7h0M738.2 590.4h0M735.7 587.5h0M736.3 581.7h0M735.3 593.7h0M732.5 583.2h0M730.9 599.0h0M726.2 586.1h0M732.6 595.4h0M736.7 585.5h0M735.6 579.6h0M732.0 583.2h0M736.7 587.3h0M742.8 586.9h0M734.8 590.4h0M743.5 590.0h0M728.1 577.5h0M736.9 594.3h0M733.1 592.2h0M738.5 600.7h0M730.9 589.6h0M729.8 595.0h0M733.8 584.2h0M737.8 593.2h0M734.2 593.6h0"/>
<path class="dots" stroke="#ff8c19" stroke-width="6.8" d="M674.9 575.5h0M689.7 579.5h0M704.0 586.3h0M699.7 579.5h0M685.9 580.8h0M684.6 573.1h0M681.2 577.2h0M707.9 580.5h0M689.8 579.7h0M685.3 584.9h0M696.0 586.1h0M683.3 576.7h0M705.6 575.2h0M690.3 581.7h0M687.5 574.5h0M690.8 583.5h0M694.9 578.3h0M707.5 584.8h0M697.5 580.2h0M700.7 580.5h0M690.1 577.7h0M698.6 583.0h0"/>
<path class="dots" stroke="#ff8c19" stroke-width="6.8" d="M664.6 569.2h0M655.6 566.9h0M664.9 564.2h0M659.6 565.7h0M666.0 564.8h0M646.9 559.4h0M664.5 569.8h0M680.3 568.4h0M654.5 562.7h0M670.6 566.6h0"/>
<path class="dots" stroke="#c40200" stroke-width="6.8" d="M601.6 504.0h0M602.0 505.1h0M601.9 505.7h0M603.4 505.7h0M603.4 506.6h0M604.4 507.1h0M605.4 507.2h0M605.7 507.6h0M605.9 509.1h0M606.6 509.6h0M607.1 509.8h0M608.1 510.0h0M608.9 510.7h0M608.5 511.7h0M610.2 511.8h0M610.6 512.5h0M611.4 513.0h0M611.8 513.8h0M611.4 514.6h0M612.7 514.3h0M612.5 515.8h0M613.7 515.9h0M614.7 516.0h0M614.6 517.2h0M615.4 516.8h0M616.2 518.2h0M616.3 518.5h0M617.5 518.5h0M618.1 519.6h0M618.4 519.9h0M619.2 520.6h0M619.4 521.0h0M619.9 522.4h0M619.9 522.5h0M621.6 522.4h0M621.5 523.4h0M622.4 524.4h0M623.0 524.2h0M623.7 525.1h0M624.7 524.9h0M625.1 525.3h0M625.1 526.5h0M626.2 527.0h0M627.1 527.1h0M627.0 528.0h0M628.6 528.4h0M628.9 528.7h0M628.4 529.9h0M629.6 530.6h0M630.9 530.2h0M630.4 531.7h0M631.4 531.9h0M632.3 532.7h0M632.2 533.0h0M633.9 533.0h0M634.0 533.3h0M634.9 533.9h0M635.3 534.6h0M635.4 535.6h0M636.2 536.4h0M637.6 535.9h0M637.8 536.3h0M638.1 537.7h0M638.8 538.4h0M639.8 538.4h0M640.6 538.2h0M640.4 539.4h0M641.9 539.5h0M642.4 539.5h0M643.0 540.4h0M644.1 540.9h0M644.1 541.7h0M645.1 542.0h0M645.6 542.5h0M646.1 542.9h0M646.7 543.9h0M646.9 544.0h0M648.4 544.3h0M648.6 545.5h0M649.1 546.0h0M649.6 545.7h0M650.6 546.8h0M651.3 547.1h0M651.5 547.7h0M652.0 548.0h0M653.5 548.2h0M653.8 548.9h0M654.5 548.3h0M655.6 549.2h0M655.6 550.1h0M657.1 549.7h0M657.4 550.2h0M658.0 550.9h0M658.3 551.8h0M659.2 552.1h0M659.9 551.9h0M660.5 552.9h0M661.0 553.5h0M662.1 553.2h0M662.5 553.9h0M663.3 554.9h0M663.4 555.4h0M664.8 555.6h0M665.1 556.2h0M666.1 556.2h0M666.4 556.2h0M667.8 556.7h0M668.6 557.0h0M668.7 557.7h0M669.8 557.2h0M670.7 557.4h0M670.7 558.4h0M672.1 558.1h0M672.8 558.3h0M673.2 560.0h0M673.7 559.3h0M674.4 560.1h0M675.3 560.4h0M676.3 560.9h0M676.7 561.4h0M677.1 561.6h0M678.4 562.0h0M679.3 561.9h0M679.5 562.4h0"/>
<path class="dots" stroke="#ff8c19" stroke-width="6.8" d="M579.9 495.1h0M579.9 495.6h0M582.7 493.5h0M582.8 493.6h0M581.6 495.2h0M582.6 494.4h0M581.5 496.3h0M582.3 495.9h0M581.2 497.5h0M583.0 496.1h0M584.2 495.2h0M582.4 497.4h0M580.8 499.7h0M583.9 496.8h0M581.9 499.2h0M581.3 500.4h0M584.3 497.6h0M583.8 498.7h0M584.3 498.6h0M584.6 498.4h0M583.3 500.3h0M582.2 501.8h0M585.2 499.1h0M586.6 498.1h0M583.2 502.3h0M585.2 500.7h0M587.9 498.0h0M583.5 503.0h0M583.7 503.2h0M588.6 498.6h0M585.4 502.6h0M586.5 501.8h0M588.7 500.0h0M587.7 501.3h0M586.6 502.8h0M589.5 500.4h0M590.1 500.3h0M589.6 501.1h0M590.0 501.3h0M586.6 504.9h0M587.2 504.8h0M586.8 505.7h0M587.3 505.5h0M587.4 505.8h0M591.7 502.0h0M587.3 506.9h0M589.5 505.0h0M592.6 502.5h0M588.7 506.8h0M593.4 502.5h0M591.2 505.0h0M592.9 503.9h0M588.7 508.1h0M591.8 505.8h0M594.1 504.1h0M589.8 508.6h0M592.5 506.2h0M594.3 505.1h0M592.4 507.3h0M591.8 508.3h0M591.8 508.7h0M591.4 509.4h0M594.7 506.6h0M591.8 509.8h0M591.4 510.9h0M591.1 511.6h0M593.9 509.3h0M596.9 506.7h0M596.8 506.9h0M591.9 512.4h0M592.3 512.3h0M593.8 511.2h0M597.6 508.1h0M594.1 511.8h0M594.5 511.9h0M593.9 512.9h0M595.7 511.6h0M594.2 513.6h0M593.4 514.6h0M594.4 514.1h0M595.0 513.9h0M597.7 511.7h0M594.8 515.0h0M595.8 515.5h0M595.8 515.9h0M600.0 510.4h0M599.2 511.7h0M597.0 515.7h0M598.3 514.5h0M599.6 512.7h0M597.6 516.5h0M597.7 516.6h0M598.4 516.4h0M597.7 518.0h0M600.7 514.0h0M600.6 514.9h0M600.7 515.4h0M600.2 516.5h0M603.2 512.2h0M604.0 512.0h0M601.6 515.8h0M603.6 513.6h0M600.6 518.4h0M601.4 517.8h0M601.7 517.7h0M600.8 519.7h0M604.0 515.6h0M605.1 514.4h0M605.6 514.3h0M604.1 517.0h0M605.9 515.1h0M602.4 520.4h0M605.5 516.6h0M605.9 516.3h0M607.5 514.6h0M606.2 517.2h0M603.6 521.7h0M607.4 516.4h0M607.9 516.1h0M606.4 519.2h0M607.2 518.3h0M607.2 518.9h0M605.7 521.8h0M607.7 519.4h0M605.5 523.2h0M608.1 519.9h0M610.3 517.3h0M608.7 519.9h0M608.5 520.8h0M610.1 519.3h0M607.7 523.0h0M609.4 521.1h0M612.5 517.3h0M608.3 523.1h0M611.3 520.3h0M609.4 522.6h0M613.0 519.3h0M610.7 522.0h0M609.6 523.9h0M614.3 519.2h0M612.7 521.4h0M610.9 523.8h0M613.5 521.5h0M612.8 522.6h0M613.5 522.3h0M614.4 521.5h0M614.6 521.9h0M614.1 523.0h0M615.2 522.2h0M613.2 524.9h0M612.4 526.3h0M614.0 525.0h0M617.1 521.9h0M614.8 524.8h0M615.1 524.8h0M615.1 525.4h0M617.8 523.1h0M616.5 524.7h0M615.9 525.7h0M613.6 528.9h0M617.2 525.1h0M615.1 528.0h0M617.9 525.4h0M616.8 527.1h0M614.4 530.1h0M614.9 529.9h0M616.3 529.0h0M618.7 526.7h0M617.4 528.6h0M620.1 525.9h0M621.2 525.4h0M620.8 526.2h0M619.9 527.7h0M619.7 528.3h0M622.0 526.4h0M618.2 531.0h0M622.0 526.9h0M617.3 532.6h0M623.0 526.8h0M622.3 528.2h0M618.7 532.3h0M618.4 533.3h0M623.8 527.9h0M619.4 533.1h0M619.6 533.3h0M621.4 531.8h0M620.7 533.1h0M621.5 532.4h0M621.4 533.2h0M624.9 529.8h0M623.4 531.5h0M624.5 530.7h0M621.8 534.4h0M625.1 531.0h0M626.4 530.1h0M621.6 536.4h0M624.3 533.5h0M623.3 535.0h0M621.9 537.2h0M625.4 533.5h0M622.3 537.7h0M623.9 536.2h0M626.7 533.1h0M624.6 536.2h0M627.2 533.7h0M624.4 537.7h0M626.7 535.0h0M625.1 537.6h0M625.2 538.3h0M624.9 538.9h0M627.2 536.7h0M630.1 533.6h0M626.4 538.4h0M625.5 540.2h0M627.5 538.2h0M628.9 536.8h0M630.2 535.9h0M631.7 534.2h0M627.2 540.2h0M630.1 537.1h0M631.2 536.5h0M630.9 537.5h0M627.7 541.9h0M628.2 541.6h0M631.9 537.4h0M629.6 540.9h0M631.4 539.2h0M634.0 536.5h0M633.3 537.8h0M629.5 543.0h0M631.7 540.7h0M632.7 539.9h0M634.4 538.3h0M631.0 542.7h0M631.2 543.2h0M635.0 538.7h0M633.4 541.4h0M632.5 542.8h0M635.4 539.9h0M633.4 542.7h0M635.4 541.1h0M633.8 543.2h0M634.0 543.7h0M633.5 544.9h0M633.6 545.2h0M633.4 546.5h0M637.3 541.1h0M638.5 539.8h0M637.5 541.9h0M639.0 540.3h0M637.3 543.3h0M636.7 544.5h0M635.7 546.9h0M637.6 544.3h0M637.3 545.0h0M640.2 541.5h0M640.6 541.5h0M638.4 545.2h0M639.9 543.8h0M640.2 543.9h0M640.3 544.1h0M641.7 542.5h0M637.9 548.7h0M639.6 546.8h0M640.1 546.5h0M642.9 542.7h0M638.9 549.2h0M640.6 547.2h0M643.8 543.1h0M640.6 548.3h0M642.0 546.8h0M641.4 548.5h0M640.3 550.5h0M644.1 545.6h0M641.1 550.3h0M643.8 546.8h0M643.1 548.8h0M645.1 546.1h0M644.1 547.9h0M642.8 550.8h0M644.8 548.0h0M642.7 551.7h0M644.8 549.3h0M644.6 550.2h0M643.9 551.5h0M645.1 550.3h0M644.1 552.6h0M645.4 551.3h0M648.3 547.4h0M644.9 552.9h0M645.4 552.6h0M648.6 548.5h0M645.3 554.0h0M647.4 551.8h0M645.5 555.0h0M648.8 550.2h0M649.5 549.5h0M649.0 550.8h0M647.1 554.8h0M649.0 552.3h0M650.9 550.0h0M647.5 555.9h0M651.3 549.9h0M651.6 550.0h0M649.9 553.7h0M651.4 552.0h0M652.5 550.8h0M650.4 554.3h0M651.0 554.4h0M651.6 553.6h0M652.9 552.4h0M651.8 554.8h0M653.9 551.4h0M652.1 555.2h0M654.1 552.4h0M652.3 556.0h0M655.5 551.3h0M655.2 552.4h0M654.8 553.9h0M653.1 557.0h0M656.2 552.4h0M652.6 559.0h0M656.9 552.3h0M654.7 556.8h0M653.5 559.2h0M654.8 557.5h0M657.3 553.9h0M655.9 556.8h0M657.4 555.2h0M656.7 557.0h0M656.5 557.7h0M656.1 558.9h0M656.0 559.9h0M656.4 559.4h0M656.9 559.1h0M659.7 555.0h0M660.0 555.2h0M658.4 558.6h0M657.1 561.5h0M659.0 558.4h0M660.5 556.6h0M658.6 560.4h0M660.1 558.8h0M660.9 558.0h0M660.8 558.5h0M659.9 561.0h0M661.7 558.2h0M662.3 557.7h0M663.8 555.7h0M663.3 557.5h0M660.5 562.6h0M662.4 559.7h0M664.1 557.5h0M664.3 557.7h0M661.7 563.1h0M663.0 561.7h0M664.4 559.3h0M664.6 559.6h0M665.1 559.7h0M664.6 561.1h0M665.0 560.6h0M664.2 562.8h0M666.1 560.0h0M664.3 563.7h0M664.4 564.1h0M665.4 563.2h0M665.5 563.6h0M666.0 563.5h0M665.0 566.0h0M669.2 558.8h0M668.8 560.0h0M669.0 560.5h0M666.8 565.1h0M669.3 561.2h0M666.6 566.7h0M669.1 562.8h0M667.5 565.9h0M669.4 563.5h0M667.8 567.1h0M670.0 563.4h0M672.1 560.6h0M668.8 566.9h0M670.1 565.0h0M669.6 566.8h0M670.5 566.0h0M673.1 561.9h0M669.9 567.8h0M672.9 563.3h0M672.3 564.9h0M674.1 562.3h0M673.1 564.7h0M671.6 568.1h0M674.6 562.6h0M672.4 568.5h0M672.3 568.9h0M675.2 564.0h0M675.8 563.3h0M675.1 565.5h0M673.2 569.8h0M674.6 567.6h0M674.0 569.6h0M674.3 570.0h0M674.8 569.6h0M674.4 571.0h0M677.7 564.7h0M676.0 569.2h0M676.0 569.6h0M676.5 569.5h0M677.7 567.7h0M678.0 567.7h0M678.3 567.8h0M678.8 567.0h0M679.6 566.2h0M680.5 565.1h0M679.9 566.8h0M681.0 565.2h0M679.4 569.7h0M678.6 572.1h0M679.9 569.8h0M681.3 567.4h0M679.4 572.2h0M680.4 571.1h0M680.6 571.5h0M680.7 572.1h0M682.2 569.0h0M682.0 570.3h0M682.0 571.4h0M682.1 571.6h0M684.6 567.3h0M683.8 569.1h0M682.4 572.9h0M684.9 568.6h0M684.2 570.5h0M683.9 571.8h0M684.9 571.0h0M684.5 572.3h0M683.5 574.8h0M685.9 570.2h0M685.7 571.7h0M686.6 570.2h0M686.9 570.7h0M685.6 573.7h0M687.7 570.0h0M685.3 575.9h0M687.5 572.2h0M687.4 573.3h0M689.0 570.6h0M688.1 572.9h0M687.9 574.1h0M690.2 569.7h0M690.2 570.4h0M688.7 574.9h0M690.6 571.2h0M690.8 571.2h0M691.8 570.1h0M689.0 577.2h0M690.2 575.3h0M691.1 573.7h0M691.2 574.2h0M691.4 574.5h0M693.0 571.3h0M690.6 577.7h0M691.1 577.6h0M691.9 576.7h0M692.6 575.6h0M694.3 572.1h0M693.5 574.6h0M694.6 572.8h0M692.6 578.3h0M695.1 573.6h0M694.4 576.3h0M695.5 574.0h0M696.2 573.6h0M695.5 575.3h0M695.2 577.4h0M696.1 575.7h0M695.6 577.8h0M696.7 576.1h0M696.9 576.5h0M698.0 574.2h0M696.7 578.0h0M698.3 575.0h0M697.1 579.4h0M699.4 574.4h0M699.3 575.3h0M698.7 577.4h0M700.2 575.1h0M700.4 575.2h0M699.4 577.8h0M700.6 576.4h0M699.0 580.7h0M700.8 577.2h0M699.9 579.8h0M700.6 579.4h0M700.9 579.4h0M700.2 581.6h0M703.0 575.8h0M700.9 581.5h0M701.2 581.6h0M702.6 579.2h0M701.7 581.9h0M703.4 578.9h0M703.9 578.9h0M703.6 579.9h0M705.3 577.1h0M704.0 580.6h0M703.7 582.1h0M704.7 580.5h0M705.9 578.7h0M704.8 581.3h0M705.9 580.0h0M706.6 579.0h0M706.4 580.3h0M706.5 581.2h0M707.1 580.2h0M706.2 582.5h0M706.6 582.4h0M708.3 579.6h0M708.2 580.5h0M708.2 581.2h0M709.2 579.8h0M709.0 581.0h0M708.5 582.6h0M708.6 583.6h0M709.1 582.8h0M708.8 584.3h0M710.4 581.5h0M709.7 584.2h0M711.5 581.0h0M711.6 581.1h0"/>
<path class="dots" stroke="#07601b" stroke-width="6.8" d="M616.4 533.6h0M612.7 528.5h0M614.2 533.1h0M612.5 539.2h0M614.9 531.2h0M612.7 531.6h0M612.0 533.9h0M616.7 531.2h0M612.0 527.8h0M612.5 534.9h0M615.0 533.3h0M611.8 528.6h0M615.1 529.5h0M616.8 534.8h0M613.8 531.1h0M616.6 528.9h0M614.7 535.9h0M615.7 529.0h0M611.6 537.8h0M616.0 528.3h0M615.3 533.7h0M615.5 539.1h0M611.8 528.6h0M614.6 536.1h0M615.2 538.2h0M614.5 530.7h0M616.6 534.8h0M613.9 539.7h0M614.7 532.6h0M613.5 533.4h0M611.8 529.0h0M613.3 533.8h0M615.2 533.5h0M612.4 528.7h0M612.6 537.1h0M616.2 531.3h0M613.0 526.7h0M616.7 528.9h0M616.2 539.1h0M614.2 533.4h0M618.2 546.4h0M619.4 548.9h0M612.6 546.3h0M615.6 547.9h0M618.4 545.1h0M617.7 550.7h0M620.5 546.6h0M618.1 538.2h0M616.7 539.4h0M615.1 541.5h0M614.8 549.5h0M617.3 550.4h0M617.4 550.5h0M616.7 546.4h0M612.1 550.6h0M613.9 539.5h0M620.2 550.3h0M614.4 540.4h0M613.9 544.5h0M613.6 540.9h0M613.2 549.1h0M619.3 546.3h0M615.6 541.0h0M613.0 538.2h0M617.3 544.0h0M619.8 540.8h0M620.5 545.9h0M617.0 544.8h0M617.4 547.3h0M617.2 546.0h0M618.2 541.6h0M617.1 548.3h0M615.0 542.8h0M612.3 541.8h0M619.4 545.6h0M620.3 545.5h0M612.3 546.0h0M612.2 546.4h0M620.4 542.9h0M615.3 549.8h0M612.6 540.6h0M613.9 539.9h0M614.9 549.7h0M619.9 550.0h0M614.7 551.7h0M617.8 548.5h0M618.6 540.1h0M612.9 546.6h0M614.5 543.8h0M613.9 544.7h0M612.1 540.6h0M614.5 547.0h0M617.4 542.2h0M615.5 548.0h0M613.3 551.4h0M618.7 541.2h0M613.3 543.7h0M612.7 548.9h0M614.8 550.1h0M615.3 548.5h0"/>
<path class="dots" stroke="#c40200" stroke-width="6.8" d="M472.2 365.6h0M508.5 407.9h0M526.0 429.4h0M537.5 443.8h0M526.0 429.5h0M545.6 453.1h0M551.9 460.0h0M556.9 464.4h0"/>
<path class="dots" stroke="#c40200" stroke-width="6.8" d="M557.5 464.7h0M558.2 465.5h0M557.9 466.0h0M559.3 466.6h0M559.6 467.0h0M559.8 467.7h0M560.7 468.6h0M561.3 468.5h0M562.3 469.2h0M562.8 470.0h0M562.9 470.2h0M564.0 471.3h0M564.4 471.3h0M565.1 471.9h0M565.0 472.7h0M566.2 473.5h0M566.8 474.2h0M567.1 474.5h0M567.9 475.2h0M568.4 475.3h0M568.8 476.2h0M569.1 477.0h0M569.8 476.8h0M570.5 477.3h0M571.0 478.8h0M571.6 478.7h0M572.7 478.5h0M572.6 479.5h0M573.3 480.6h0M574.6 480.5h0M574.3 481.3h0M574.9 481.9h0M575.7 482.7h0M576.5 482.4h0M577.8 483.0h0M577.8 483.7h0M578.9 484.1h0M579.4 484.5h0M579.6 485.1h0M579.6 486.0h0M580.4 486.6h0M581.9 486.6h0M581.6 488.2h0M582.9 487.3h0M583.3 487.8h0M583.7 488.5h0M584.7 488.9h0M585.1 490.1h0M585.8 489.7h0M585.6 491.4h0M586.6 491.9h0M587.7 491.4h0M587.1 493.2h0M587.7 493.3h0M588.8 493.9h0M589.6 493.9h0M590.0 495.1h0M591.3 494.4h0M591.5 495.2h0M591.6 495.9h0M591.7 497.3h0M592.4 497.6h0M593.3 497.6h0M594.7 497.4h0M594.5 498.6h0M596.2 498.7h0M595.4 500.1h0M596.4 500.6h0M597.5 500.4h0M598.3 500.6h0M599.2 501.2h0M598.6 502.1h0M599.5 502.3h0M600.4 503.3h0M601.1 503.5h0"/>
<path class="dots" stroke="#c40200" stroke-width="6.8" d="M680.9 561.8h0M681.3 562.2h0M681.8 562.5h0M681.9 563.5h0M683.2 563.9h0M683.5 563.8h0M684.9 563.7h0M684.9 564.5h0M686.1 564.5h0M686.9 565.7h0M687.1 565.6h0M688.0 565.3h0M688.5 566.1h0M689.4 566.2h0M690.4 566.2h0M691.4 566.7h0M691.8 567.5h0M693.0 567.3h0M692.8 568.2h0M693.6 568.6h0M694.8 567.9h0M695.5 569.4h0M696.1 570.1h0M696.8 568.8h0M697.5 569.4h0M698.3 570.6h0M698.6 570.7h0M699.3 571.5h0M700.9 570.8h0M701.3 571.1h0M701.6 572.8h0M702.3 572.8h0M703.0 572.4h0M704.2 573.1h0M704.7 573.6h0M705.0 574.7h0M705.7 575.0h0M706.7 574.1h0M707.0 575.7h0M707.9 575.2h0M708.3 576.5h0M708.7 576.5h0M709.9 577.0h0M710.7 577.2h0M711.4 577.6h0M711.8 578.5h0M712.2 578.1h0M713.7 578.5h0M713.7 578.6h0M714.9 579.0h0M716.0 579.2h0M715.7 580.5h0M716.9 580.0h0M717.6 580.4h0M718.1 581.9h0M718.5 582.1h0M720.0 582.1h0M720.1 583.0h0M720.9 582.9h0M722.2 583.2h0M722.4 583.3h0M723.4 583.6h0M724.2 583.1h0M725.4 583.5h0M725.9 584.2h0M726.5 584.0h0M727.3 584.6h0M727.6 585.3h0M728.6 585.3h0M729.2 585.7h0M730.0 586.9h0M731.0 586.2h0M731.3 587.0h0M732.3 586.4h0M733.2 587.3h0M733.8 586.7h0M734.3 587.3h0M735.4 588.6h0M735.6 589.0h0M736.7 588.7h0M737.9 588.4h0M737.8 589.6h0M738.7 589.7h0M739.8 589.4h0M740.7 590.3h0M741.0 589.8h0M741.5 591.1h0M742.9 590.4h0M743.5 590.5h0M743.7 591.3h0M744.9 591.4h0M745.7 592.4h0M746.5 592.5h0M747.2 593.0h0M747.6 593.0h0M748.5 592.2h0M748.9 593.0h0M749.9 593.2h0M751.1 593.1h0M751.7 593.9h0M751.9 594.2h0M753.3 594.1h0M753.6 595.5h0M754.0 595.7h0M755.0 595.1h0M756.2 595.2h0M756.5 596.2h0M757.5 595.6h0M758.2 596.9h0M758.7 596.5h0M759.4 597.1h0M760.5 597.8h0M761.2 598.0h0M761.9 597.6h0M762.2 598.5h0M763.5 597.9h0M763.8 599.5h0M765.0 599.1h0M765.1 599.7h0M766.6 599.3h0M767.1 600.6h0M767.4 601.0h0M768.4 601.4h0M769.1 601.1h0M770.3 600.8h0M770.8 600.8h0M771.6 602.7h0M772.1 601.9h0M773.2 602.6h0M773.8 603.0h0M774.7 602.2h0M775.3 604.1h0M776.2 604.4h0M776.6 604.3h0M778.0 603.6h0M778.5 604.1h0M779.5 604.5h0M779.9 605.2h0M780.5 606.0h0M781.0 605.9h0M782.4 605.4h0M783.4 606.2h0M783.9 606.2h0M784.0 607.2h0M784.8 607.3h0M786.5 607.2h0M786.5 607.3h0M786.9 608.6h0M788.1 607.7h0M788.4 609.2h0M790.1 608.3h0M790.2 608.9h0M790.9 609.9h0M792.4 609.5h0M792.6 609.5h0M793.5 609.8h0M794.0 610.8h0M794.8 611.5h0M796.1 611.3h0M796.6 611.5h0M797.8 611.8h0M798.2 611.5h0M799.0 612.9h0M799.6 613.1h0M800.1 613.4h0M801.2 612.4h0M801.8 613.9h0M802.6 613.9h0M803.6 613.4h0M803.9 614.9h0M804.6 614.1h0M805.6 614.8h0M806.6 614.7h0M807.1 615.5h0M807.9 616.0h0M808.7 615.8h0M809.6 616.2h0M810.1 616.4h0M810.8 617.3h0M811.2 617.8h0M812.5 617.4h0M812.8 617.4h0M813.6 617.6h0M814.0 618.5h0M815.0 618.9h0M815.7 618.2h0M817.0 619.5h0M817.8 619.9h0M818.6 619.6h0M819.7 619.1h0M819.9 619.9h0M820.9 620.2h0M821.1 620.8h0M822.2 620.7h0M822.4 621.4h0M823.2 621.6h0M824.7 621.2h0M825.5 621.5h0M826.2 622.4h0M826.5 621.9h0M827.2 622.9h0M828.2 622.6h0M829.2 623.5h0M829.7 623.2h0M830.2 623.4h0M830.7 624.6h0M832.2 624.7h0M832.5 624.2h0M833.3 626.1h0M834.0 626.2h0M834.8 625.9h0"/>
<path class="dots" stroke="#9917d3" stroke-width="6.8" d="M537.5 484.0h0M582.8 502.8h0M602.1 511.9h0M606.2 505.6h0M614.5 519.0h0M623.8 525.0h0M628.1 518.8h0M631.2 529.4h0M709.0 571.5h0M722.5 575.6h0M722.8 579.4h0M731.9 583.8h0M739.0 585.6h0M746.2 588.8h0"/>
<path class="dots" stroke="#9917d3" stroke-width="6.8" d="M636.2 530.6h0M636.7 530.7h0M637.6 531.4h0M637.9 531.5h0M637.9 532.8h0M638.7 532.8h0M639.3 533.3h0M639.6 533.8h0M640.3 533.4h0M640.4 534.5h0M641.9 533.7h0M641.4 535.6h0M642.5 534.5h0M643.4 534.8h0M644.2 533.9h0M644.3 534.7h0M644.0 536.3h0M646.2 534.2h0M646.6 534.6h0M647.5 535.1h0M645.9 538.2h0M648.0 536.7h0M646.7 538.8h0M647.3 539.6h0M648.2 539.4h0M648.9 539.4h0M650.8 537.6h0M649.6 540.2h0M651.8 538.5h0M651.6 539.2h0M650.9 541.8h0M651.0 542.3h0M653.9 539.2h0M653.7 540.7h0M652.8 543.1h0M654.6 540.9h0M655.2 541.6h0M654.9 543.2h0M656.9 541.2h0M657.5 541.4h0M656.2 544.4h0M658.0 542.6h0M658.9 542.1h0M659.3 543.2h0M660.1 543.1h0M659.0 545.4h0M660.6 544.5h0M659.5 546.9h0M661.1 545.9h0M661.8 545.5h0M663.0 545.3h0M661.7 548.4h0M662.9 547.4h0M664.5 546.0h0M665.1 546.3h0M663.8 550.0h0M664.4 550.1h0M665.3 549.1h0M666.4 549.0h0M666.4 550.0h0M668.0 547.9h0M666.9 551.8h0M668.3 550.6h0M667.9 552.4h0M668.9 551.8h0M670.1 550.2h0M670.3 551.4h0M670.0 553.1h0M671.8 552.0h0M672.4 552.0h0M673.0 552.1h0M673.5 552.0h0M673.8 552.8h0M674.9 552.6h0M675.3 553.2h0M674.4 555.1h0M676.3 553.5h0M676.3 554.7h0M676.7 555.2h0M677.9 554.3h0M676.5 557.2h0M677.1 557.5h0M678.1 557.3h0M679.1 556.9h0M679.9 556.5h0M679.3 558.6h0M679.6 559.1h0M681.8 557.5h0M680.8 559.6h0M682.7 557.9h0M681.8 560.7h0M683.3 559.8h0M683.3 560.7h0M685.2 558.6h0M685.6 559.3h0M685.5 560.2h0M686.7 559.8h0M687.0 560.0h0M686.1 563.3h0M688.2 561.0h0M687.1 563.0h0M687.9 563.3h0M688.0 564.1h0M689.0 563.6h0M690.1 563.4h0"/>
<path class="dots" stroke="#9917d3" stroke-width="6.8" d="M748.0 590.0h0M748.9 590.2h0M749.5 590.1h0M750.0 589.8h0M750.6 590.8h0M750.8 590.9h0M751.8 590.4h0M752.1 590.7h0M752.7 591.6h0M753.3 591.4h0M754.0 591.6h0M754.1 591.9h0M754.9 592.5h0M755.6 592.2h0M755.9 592.6h0M756.4 593.1h0M757.0 593.3h0M757.9 592.6h0M758.1 592.9h0M758.6 593.9h0M759.5 593.9h0M759.7 594.0h0M760.2 594.1h0M760.7 594.9h0M761.9 594.2h0M762.2 595.0h0M762.7 595.0h0M763.2 595.7h0M763.6 595.2h0M764.2 595.3h0M764.6 596.0h0M765.4 595.8h0M765.7 596.7h0M766.1 596.9h0M767.1 596.8h0M767.1 597.5h0M768.2 597.4h0M768.6 597.6h0M769.4 597.1h0M769.7 597.7h0M770.0 598.3h0M770.7 598.7h0M771.6 598.7h0M772.2 598.5h0M772.2 599.2h0M773.4 599.0h0M773.8 599.4h0M774.0 600.1h0M774.8 600.3h0M775.4 600.4h0M775.9 600.8h0M776.2 600.6h0M776.8 600.3h0M777.9 600.7h0M778.1 600.9h0M778.5 601.3h0M778.8 601.9h0M779.7 601.4h0M780.3 602.1h0M780.6 602.9h0M781.5 603.1h0M782.2 602.3h0M782.7 602.7h0M783.3 602.8h0M783.9 603.1h0M784.3 604.1h0M785.0 603.4h0M785.1 604.0h0M786.0 604.3h0M786.6 604.7h0M787.0 604.3h0M787.1 605.3h0M788.1 605.8h0M788.7 606.0h0M789.2 605.5h0M789.5 606.5h0M789.9 606.7h0M791.1 605.9h0M791.3 606.0h0M792.3 606.6h0M792.6 607.4h0M793.0 606.9h0M793.7 606.9h0M794.0 607.9h0M794.7 607.9h0M795.2 608.3h0M796.1 607.8h0M796.3 608.2h0M796.9 609.3h0M797.3 609.5h0M798.0 609.7h0M798.5 610.0h0M799.2 609.3h0M799.7 610.1h0M800.5 609.7h0M800.9 610.6h0M801.4 610.6h0M801.9 610.6h0M803.0 610.6h0M803.1 611.4h0M803.7 611.4h0M803.8 612.1h0M804.7 611.6h0M805.6 611.6h0M806.0 613.0h0M806.6 611.7h0M807.0 612.3h0M807.5 612.9h0M808.3 612.4h0M808.8 614.3h0M809.2 613.4h0M810.0 613.3h0M810.6 614.1h0M811.0 614.4h0M812.0 613.8h0M812.0 614.6h0M812.7 615.7h0M813.6 614.3h0M814.4 614.5h0M814.3 615.7h0M815.2 615.2h0M815.9 615.2h0M816.6 615.0h0M816.6 615.7h0M817.3 617.2h0M818.2 616.4h0M818.8 616.5h0M819.2 616.1h0M819.8 616.4h0M820.5 616.8h0M820.9 617.5h0M821.1 617.8h0M821.7 617.6h0M822.6 617.1h0M823.0 616.9h0M824.1 616.8h0M824.3 617.4h0M824.5 618.4h0M825.6 618.5h0M826.4 618.3h0M827.2 617.8h0M826.5 620.0h0M827.3 619.4h0M827.7 620.7h0M828.4 620.8h0M829.4 619.2h0M829.7 620.6h0M829.9 622.3h0M830.6 622.0h0M831.2 621.5h0M831.7 622.1h0M832.5 621.5h0M832.6 622.8h0M832.9 623.2h0M834.9 621.2h0M835.4 621.7h0M836.0 621.5h0M835.6 623.4h0M836.4 624.0h0M837.4 622.0h0M838.0 623.1h0M837.7 624.9h0M839.2 623.3h0M838.4 626.4h0M839.5 625.2h0"/>
<path class="dots" stroke="#9917d3" stroke-width="6.8" d="M826.5 615.4h0M827.0 616.2h0M827.4 616.5h0M827.8 616.4h0M827.7 617.2h0M828.3 617.5h0M828.8 617.9h0M829.5 617.1h0M830.0 617.7h0M830.7 617.7h0M831.2 617.7h0M831.2 618.3h0M832.0 618.0h0M832.4 617.8h0M832.8 618.5h0M833.2 618.9h0M833.8 618.6h0M834.0 619.3h0M834.5 620.4h0M835.4 619.4h0M835.7 619.4h0M836.0 620.5h0M837.0 619.7h0M836.8 620.2h0M837.3 620.5h0M837.6 621.7h0M838.2 621.5h0M838.8 621.6h0M839.2 621.7h0M840.1 621.1h0M839.8 622.1h0M840.3 622.4h0M840.8 623.0h0M841.8 622.1h0M842.3 621.7h0M842.4 622.6h0M842.7 623.9h0M843.5 623.3h0M843.8 623.6h0M844.1 623.7h0M844.9 623.1h0M845.6 623.7h0M845.9 623.9h0M846.1 624.2h0M846.3 625.4h0M847.4 624.1h0M847.3 624.9h0M847.9 624.8h0M848.6 624.5h0M849.0 625.7h0M849.2 626.0h0M850.3 625.2h0M850.3 626.7h0M850.7 626.6h0M851.2 626.8h0M851.9 626.6h0M851.8 627.1h0M852.3 628.0h0M853.1 627.6h0M853.4 628.0h0M853.8 628.2h0M854.3 627.6h0M855.1 627.7h0M855.5 627.5h0M855.1 629.4h0M856.3 628.0h0M856.7 629.1h0M856.9 629.2h0M857.9 628.6h0M858.4 629.0h0M858.0 630.2h0M859.2 629.2h0M859.7 629.6h0M860.2 629.6h0M860.3 630.8h0M861.0 629.9h0M861.4 630.6h0M861.5 632.0h0M862.3 630.4h0M862.7 630.5h0M862.4 632.5h0M863.2 632.3h0M863.8 632.5h0M864.5 632.0h0M865.1 631.6h0M865.6 632.1h0M866.0 632.4h0M866.2 632.7h0M866.5 633.1h0M867.6 632.8h0M868.0 632.9h0M868.1 633.5h0M868.2 634.6h0M868.8 634.1h0M869.5 634.1h0M869.9 634.1h0M870.1 635.6h0M871.1 634.9h0M871.2 634.8h0M871.9 635.3h0M872.4 635.2h0M872.6 636.4h0M873.0 636.2h0M873.3 636.3h0M874.0 636.9h0M874.6 636.6h0M874.6 637.4h0M875.5 636.9h0M875.7 637.2h0M876.0 638.0h0M876.2 638.6h0M876.8 638.4h0M877.4 638.9h0M877.9 639.1h0M878.4 638.6h0M878.3 639.9h0M879.1 639.5h0M879.8 640.0h0M880.4 639.9h0M880.7 640.3h0M881.1 640.1h0M882.0 639.9h0M882.1 640.8h0M882.8 640.2h0M883.4 640.4h0M882.8 642.2h0M883.2 642.3h0M884.4 641.6h0M884.2 642.7h0M884.9 642.6h0M885.9 641.9h0M886.2 642.1h0M885.9 643.8h0M886.4 644.0h0M887.3 643.4h0M887.6 643.9h0M888.6 643.0h0M888.6 643.9h0M889.4 643.5h0M889.5 644.8h0M889.9 645.0h0M890.4 645.5h0M890.8 646.2h0M891.3 645.5h0M891.8 646.3h0M892.1 646.7h0M892.9 645.9h0M893.0 646.8h0M894.0 645.9h0M894.6 646.3h0M894.5 647.7h0M894.6 648.2h0M895.5 647.1h0M896.1 647.1h0M896.7 647.2h0M897.0 648.1h0M897.3 648.3h0M897.3 649.2h0M897.8 649.2h0M898.3 649.4h0M899.3 648.7h0M900.0 648.9h0M900.2 649.6h0M900.7 649.2h0M901.4 649.5h0M901.7 650.1h0M901.8 650.8h0M902.4 650.8h0M902.7 651.0h0M903.0 651.8h0M903.1 652.3h0M904.1 652.1h0M904.2 652.8h0M904.7 652.9h0M905.1 652.4h0M905.8 653.1h0M906.7 652.4h0M906.8 652.5h0M906.8 653.7h0M908.0 653.1h0M907.9 654.6h0M908.5 654.4h0M909.2 653.8h0M909.1 655.0h0M909.7 655.5h0M909.7 655.7h0M911.1 654.9h0M910.8 656.5h0M912.1 655.0h0M911.7 657.0h0M911.8 657.1h0M913.3 656.0h0M913.2 656.5h0M913.5 657.5h0M914.2 657.1h0M914.9 656.6h0M915.4 657.0h0M915.5 657.6h0M915.4 659.2h0M916.1 658.9h0M916.4 658.9h0M917.5 658.3h0M918.0 658.9h0M917.7 659.9h0M919.2 658.8h0M919.1 660.0h0M919.9 659.6h0M919.6 661.2h0M919.9 661.0h0M920.4 661.3h0M920.8 661.5h0M921.4 661.4h0M922.5 660.7h0M922.4 661.4h0M923.0 662.2h0M923.4 662.6h0M923.4 663.1h0M924.4 662.5h0M925.2 662.1h0M925.3 662.8h0M926.1 662.8h0M926.4 662.8h0M926.9 663.5h0M927.7 663.0h0M927.5 664.5h0M928.3 664.0h0M928.2 664.6h0M928.6 665.0h0M929.3 665.2h0M929.4 665.5h0M930.0 666.2h0M930.8 665.5h0M930.7 666.1h0M931.9 665.1h0M931.8 666.1h0M932.2 666.4h0M932.3 667.7h0M932.9 667.4h0M934.2 666.2h0M934.3 666.8h0M934.3 667.9h0M934.9 668.1h0M935.6 667.4h0M936.6 667.3h0M936.6 668.1h0M937.2 668.5h0M937.0 670.1h0M938.0 668.4h0M938.1 669.4h0M938.8 668.8h0M939.5 668.9h0M939.8 669.1h0M939.8 670.5h0M940.3 670.6h0M940.6 671.3h0M941.4 670.3h0M942.2 670.5h0"/>
<path class="dots" stroke="#9917d3" stroke-width="6.8" d="M830.1 623.7h0M830.8 623.4h0M831.2 623.5h0M831.5 623.6h0M831.9 624.1h0M832.7 623.7h0M832.7 624.4h0M833.7 623.9h0M833.6 625.6h0M834.8 624.5h0M835.3 624.8h0M834.9 626.2h0M835.6 625.7h0M836.0 626.4h0M836.3 626.9h0M836.7 626.6h0M837.3 627.0h0M837.6 627.3h0M838.8 626.6h0M838.7 628.1h0M839.8 627.0h0M839.8 627.4h0M840.0 628.8h0M840.4 628.3h0M841.4 628.5h0M841.3 629.6h0M841.9 629.5h0M842.3 629.0h0M843.2 628.6h0M843.4 629.9h0M844.2 629.5h0M844.0 630.5h0M844.4 631.1h0M844.9 631.1h0M845.5 630.6h0M846.3 630.7h0M846.5 631.8h0M846.8 632.4h0M846.9 632.4h0M848.3 631.4h0M848.5 631.5h0M849.1 631.9h0M849.4 632.2h0M849.6 632.5h0M849.5 633.9h0M851.0 632.9h0M850.4 634.4h0M851.5 633.5h0M852.1 634.0h0M852.1 635.0h0M852.5 634.6h0M852.9 635.2h0M853.7 635.0h0M853.9 636.0h0M854.3 636.3h0M855.0 635.4h0M855.5 636.2h0M855.2 637.0h0M856.3 636.3h0M856.4 637.6h0M857.2 636.9h0M857.9 636.4h0M858.3 636.5h0M858.4 637.4h0M859.0 637.9h0M859.8 637.5h0M859.7 639.0h0M860.4 638.8h0M860.6 639.1h0M861.8 638.3h0M861.8 638.5h0M861.7 639.7h0M862.1 640.1h0M863.0 640.1h0M863.6 639.7h0M863.4 640.8h0M864.1 640.5h0M864.9 640.1h0M865.4 641.1h0M865.3 641.8h0M866.1 641.1h0M866.7 641.6h0M866.9 642.3h0M867.1 642.6h0M867.8 642.5h0M868.6 642.5h0M869.0 643.0h0M868.9 644.0h0M870.2 642.8h0M869.5 644.5h0M870.5 643.8h0M870.9 644.5h0M871.2 645.0h0M872.0 644.4h0M872.3 645.0h0M872.7 644.9h0M873.2 645.2h0M873.4 646.2h0M873.4 646.7h0M874.0 646.5h0M875.1 646.5h0M875.4 646.5h0M875.3 647.6h0M876.5 647.1h0M877.2 646.9h0M877.6 646.9h0M877.9 647.6h0M877.6 648.2h0M878.4 648.6h0M878.3 649.4h0M879.4 648.4h0M879.6 648.9h0M880.4 649.1h0M880.6 649.5h0M880.7 650.6h0M881.0 650.8h0M882.1 649.6h0M882.8 649.7h0M882.7 650.8h0M883.3 650.4h0M883.3 651.7h0M884.7 650.7h0M884.0 652.5h0M885.0 652.0h0M885.8 651.5h0M885.8 652.2h0M886.1 652.6h0M886.4 653.0h0M887.4 653.0h0M887.3 654.1h0M888.3 652.9h0M888.3 654.0h0M889.3 653.7h0M890.0 653.6h0M889.9 654.8h0M890.2 655.4h0M890.4 655.9h0M891.5 654.9h0M891.5 655.6h0M891.4 656.5h0M892.6 655.4h0M893.1 655.6h0M892.6 657.3h0M894.0 656.1h0M893.7 657.4h0M894.0 657.8h0M895.2 657.1h0M895.1 658.0h0M896.1 657.7h0M896.5 657.5h0M896.6 658.4h0M897.3 658.0h0M897.7 659.0h0M898.4 659.0h0M898.8 659.0h0M899.1 659.4h0M898.7 660.8h0M899.3 660.6h0M899.8 660.9h0M900.9 660.3h0M900.5 661.7h0M902.0 660.8h0M902.0 661.5h0M901.9 662.3h0M902.4 662.3h0M903.3 661.7h0M903.7 661.8h0M904.0 663.4h0M904.3 663.8h0M904.3 663.8h0M905.6 663.0h0M906.2 663.2h0M905.9 664.4h0M906.4 664.8h0M907.0 664.9h0M907.2 664.7h0M907.7 665.2h0M908.5 665.2h0M909.2 665.1h0M908.9 665.9h0M910.1 665.7h0M909.9 666.8h0M910.1 667.1h0M910.9 666.9h0M911.2 667.0h0M911.3 668.1h0M912.0 667.9h0M912.4 668.5h0M913.2 667.5h0M913.8 668.0h0M914.2 667.8h0M914.3 668.9h0M914.3 669.7h0M915.2 668.9h0M915.6 669.3h0M915.9 670.6h0M916.5 669.7h0M916.6 670.4h0M917.2 671.0h0M918.1 670.4h0M917.7 671.8h0M918.3 671.7h0M918.8 672.2h0M919.6 671.7h0M920.2 672.0h0M920.4 672.7h0M921.0 672.1h0M921.4 672.7h0M921.9 672.5h0M921.5 674.0h0M922.5 674.2h0M923.2 673.2h0M923.5 674.2h0M923.9 674.6h0M924.5 674.3h0M924.7 675.0h0M924.9 675.1h0M925.9 675.2h0M925.8 675.9h0M926.7 675.6h0M927.1 676.1h0M927.3 676.7h0M928.0 676.3h0M928.1 676.8h0M928.7 676.6h0M928.6 677.9h0M929.0 677.9h0M930.2 677.6h0M930.1 678.7h0M930.3 679.3h0M931.3 678.5h0M931.5 679.0h0M931.5 679.8h0M931.9 679.9h0M932.6 679.6h0M933.0 680.0h0M933.3 680.6h0M933.8 681.0h0M934.6 680.3h0M934.6 681.3h0M934.9 682.1h0M935.2 682.2h0M935.9 682.6h0M936.2 682.4h0M936.4 683.0h0M937.3 682.6h0M938.1 682.4h0M938.2 683.4h0M938.9 682.9h0M939.0 683.5h0M940.0 683.7h0M939.9 684.4h0M940.0 685.1h0M940.9 684.6h0M941.8 684.7h0M941.7 685.6h0M942.1 685.7h0M942.7 685.5h0M943.1 686.0h0M943.2 686.8h0M943.8 686.8h0"/>
<path class="dots" stroke="#9917d3" stroke-width="6.8" d="M835.2 621.8h0M836.1 621.4h0M836.3 622.1h0M836.2 623.7h0M836.8 623.8h0M836.4 624.8h0M838.6 622.2h0M837.8 625.3h0M839.6 622.0h0M838.3 625.5h0M838.8 625.5h0M840.2 624.4h0M840.1 625.5h0M841.0 625.5h0M841.5 625.2h0M841.9 625.6h0M841.8 626.6h0M843.2 625.1h0M842.8 627.1h0M843.9 626.2h0M845.3 624.9h0M844.9 626.1h0M844.3 629.0h0M844.4 629.4h0M846.3 627.2h0M845.7 629.1h0M846.4 628.5h0M846.5 629.2h0M848.2 627.7h0M847.9 629.2h0M848.7 628.8h0M847.9 631.0h0M849.5 629.6h0M850.7 627.6h0M849.6 631.8h0M852.0 627.8h0M851.2 630.3h0M852.6 628.3h0M851.4 632.4h0M852.7 630.3h0M854.1 629.4h0M854.4 629.2h0M854.6 630.8h0M854.4 631.2h0M853.9 633.7h0M855.5 631.4h0M855.3 633.0h0M856.0 632.6h0M855.8 634.6h0M857.4 632.8h0M857.0 633.9h0M857.1 635.0h0M859.1 632.2h0M857.8 636.2h0M858.6 636.1h0M860.8 632.6h0M859.4 636.1h0M860.1 635.5h0M861.3 635.2h0M862.4 633.5h0M862.6 634.7h0M862.7 634.9h0M863.8 634.1h0M862.5 638.3h0M862.9 638.0h0M864.5 636.1h0M863.7 638.5h0M865.5 636.0h0M865.6 637.5h0M865.7 638.6h0M865.4 639.8h0M867.0 638.1h0M867.8 637.7h0M867.1 639.6h0M867.4 640.3h0M869.0 638.1h0M870.0 637.8h0M868.9 640.5h0M869.4 641.0h0M870.6 640.0h0M870.4 640.9h0M870.8 641.4h0M871.6 640.7h0M873.2 638.9h0M872.6 641.0h0M872.0 643.1h0M874.5 640.3h0M874.8 639.9h0M875.4 640.8h0M875.4 641.5h0M874.4 644.4h0M875.3 644.1h0M876.1 643.5h0M875.9 644.7h0M877.1 643.9h0M876.8 644.7h0M878.0 644.3h0M878.4 644.3h0M878.4 645.1h0M879.4 644.8h0M880.6 643.4h0M881.3 643.7h0M881.0 644.7h0M880.7 646.5h0M881.9 645.1h0M881.6 647.0h0M881.7 647.8h0M883.1 646.3h0M884.0 645.6h0M883.5 647.1h0M884.4 647.3h0M884.9 647.0h0M885.8 646.2h0M886.6 646.4h0M886.3 647.4h0M886.1 649.5h0M886.8 649.3h0M887.5 649.1h0M888.1 648.9h0M887.6 650.7h0M888.9 649.1h0M888.8 650.1h0M890.0 649.7h0M889.8 651.1h0M890.9 650.0h0M890.5 651.2h0M891.1 651.7h0M891.2 652.0h0M892.2 651.0h0M892.9 651.3h0M892.9 652.4h0M893.1 653.5h0M894.1 652.0h0M894.3 652.9h0M894.8 653.7h0M896.0 652.2h0M895.1 654.2h0M896.6 653.2h0M897.1 653.2h0M897.4 653.8h0M897.3 655.3h0M898.2 654.4h0M898.1 655.8h0M899.1 654.6h0M899.0 655.7h0M899.4 655.9h0M900.4 655.9h0M900.6 655.8h0M901.2 655.7h0M901.6 656.0h0M902.5 656.0h0M902.9 656.0h0M902.4 657.8h0M903.4 657.8h0M903.6 657.5h0M904.3 657.9h0M905.3 657.3h0"/>
</g>
<g fill="none" stroke="#141414" stroke-width="1.6"><rect x="193.15" y="23.00" width="813.85" height="695.00"/><path d="M328.79 718.00v-14M328.79 23.00v14M464.43 718.00v-14M464.43 23.00v14M600.07 718.00v-14M600.07 23.00v14M735.72 718.00v-14M735.72 23.00v14M871.36 718.00v-14M871.36 23.00v14M193.15 138.83h14M1007.00 138.83h-14M193.15 254.67h14M1007.00 254.67h-14M193.15 370.50h14M1007.00 370.50h-14M193.15 486.33h14M1007.00 486.33h-14M193.15 602.17h14M1007.00 602.17h-14"/></g>
<g class="tk" transform="scale(1 1.04)"><text x="173.5" y="30.96" text-anchor="end">1.1</text><text x="173.5" y="142.34" text-anchor="end">1</text><text x="173.5" y="253.72" text-anchor="end">0.9</text><text x="173.5" y="365.10" text-anchor="end">0.8</text><text x="173.5" y="476.47" text-anchor="end">0.7</text><text x="173.5" y="587.85" text-anchor="end">0.6</text><text x="173.5" y="699.23" text-anchor="end">0.5</text><text x="193.1" y="731.92" text-anchor="middle">0.8</text><text x="328.7" y="731.92" text-anchor="middle">1</text><text x="464.3" y="731.92" text-anchor="middle">1.2</text><text x="600.0" y="731.92" text-anchor="middle">1.4</text><text x="735.6" y="731.92" text-anchor="middle">1.6</text><text x="871.3" y="731.92" text-anchor="middle">1.8</text><text x="1006.9" y="731.92" text-anchor="middle">2</text></g>
<text class="bi" font-size="36.5" transform="translate(32 414.4) rotate(-90) scale(1 1.03)">N/CC</text>
<text transform="scale(1 1.04)"><tspan class="b" font-size="28" x="214.00" y="59.42" letter-spacing="0.355">Standard telecommunication fiber</tspan></text>
<text transform="scale(1 1.04)"><tspan class="b" font-size="28" x="214.00" y="93.08" letter-spacing="0.382">Hydrogen loading :</tspan><tspan font-size="1"> </tspan><tspan font-size="28" x="487.75" y="93.08" letter-spacing="0.114">140 Bars, 20°C, 14 days</tspan></text>
<text transform="scale(1 1.04)"><tspan class="b" font-size="28" x="214.50" y="126.73" letter-spacing="0.361">Writing conditions:</tspan><tspan font-size="1"> </tspan><tspan font-size="28" x="486.25" y="126.73" letter-spacing="0.647">Cw, 244nm, 35W/cm²</tspan></text>
<text transform="scale(1 1.04)"><tspan class="b" font-size="36" x="504.25" y="201.92" letter-spacing="2">ln</tspan><tspan class="i" style="stroke-width:1.2px" font-size="36" x="539.25" y="201.92">(</tspan><tspan class="bi" font-size="36" x="549.40" y="201.92">k</tspan><tspan class="bi" font-size="23.5" x="568.40" y="219.33">0</tspan><tspan class="i" style="stroke-width:1.2px" font-size="36" x="582.50" y="201.92">(</tspan><tspan class="b" font-size="36" x="593.40" y="201.92">s</tspan><tspan class="b" font-size="23.5" x="613.75" y="182.50">-</tspan><tspan class="b" font-size="23.5" x="622.90" y="182.50">1</tspan><tspan class="i" style="stroke-width:1.2px" font-size="36" x="636.50" y="201.92" letter-spacing="0.25">))</tspan><tspan font-size="1"> </tspan><tspan class="b" font-size="36" x="671.25" y="201.92" letter-spacing="0.731">= 21.5 +/- 2.0</tspan></text>
<text transform="scale(1 1.04)"><tspan class="i" font-size="28.5" x="256.00" y="639.62">Δ</tspan><tspan class="bi" font-size="28.5" x="275.00" y="639.62">n</tspan><tspan class="b" font-size="17.5" x="291.10" y="653.85" letter-spacing="1.45">mod</tspan><tspan font-size="1"> </tspan><tspan class="b" font-size="28.5" x="339.60" y="639.62" letter-spacing="-0.06">(0, 293K) =</tspan><tspan font-size="1"> </tspan><tspan font-size="28.5" x="494.50" y="639.62" letter-spacing="-0.267">9,58.10</tspan><tspan font-size="17.5" x="593.10" y="624.04" letter-spacing="0.4">-4</tspan><tspan font-size="28.5" x="609.25" y="639.62">,</tspan><tspan font-size="1"> </tspan><tspan class="bi" font-size="28.5" x="626.90" y="639.62">L</tspan><tspan font-size="1"> </tspan><tspan class="b" font-size="28.5" x="650.90" y="639.62" letter-spacing="-0.1">= 0.8</tspan><tspan font-size="1"> </tspan><tspan font-size="28.5" x="725.00" y="639.62" letter-spacing="2.25">mm</tspan></text>
<text transform="scale(1 1.04)"><tspan class="bi" font-size="36.5" x="521.00" y="798.27">E</tspan><tspan class="b" font-size="23.5" x="544.00" y="815.87">d</tspan><tspan font-size="1"> </tspan><tspan class="b" font-size="36.5" x="572.75" y="798.27" letter-spacing="0.208">(in eV)</tspan></text>
<text transform="scale(1 1.03)" style="fill:#0000cd;stroke:#0000cd"><tspan class="b" font-size="28.5" x="361.25" y="183.59" letter-spacing="-0.088">406 K</tspan></text>
<text transform="scale(1 1.03)" style="fill:#07601b;stroke:#07601b"><tspan class="b" font-size="28.5" x="526.90" y="387.28" letter-spacing="-0.1">452 K</tspan></text>
<text transform="scale(1 1.03)" style="fill:#ff8c19;stroke:#ff8c19"><tspan class="b" font-size="28.5" x="604.60" y="457.67" letter-spacing="0.1">508 K</tspan></text>
<text transform="scale(1 1.03)" style="fill:#c40200;stroke:#c40200"><tspan class="b" font-size="28.5" x="702.75" y="529.22">560 K</tspan></text>
<text transform="scale(1 1.03)" style="fill:#9917d3;stroke:#9917d3"><tspan class="b" font-size="28.5" x="859.60" y="601.07" letter-spacing="0.162">610 K</tspan></text>
</svg>
</body></html>
